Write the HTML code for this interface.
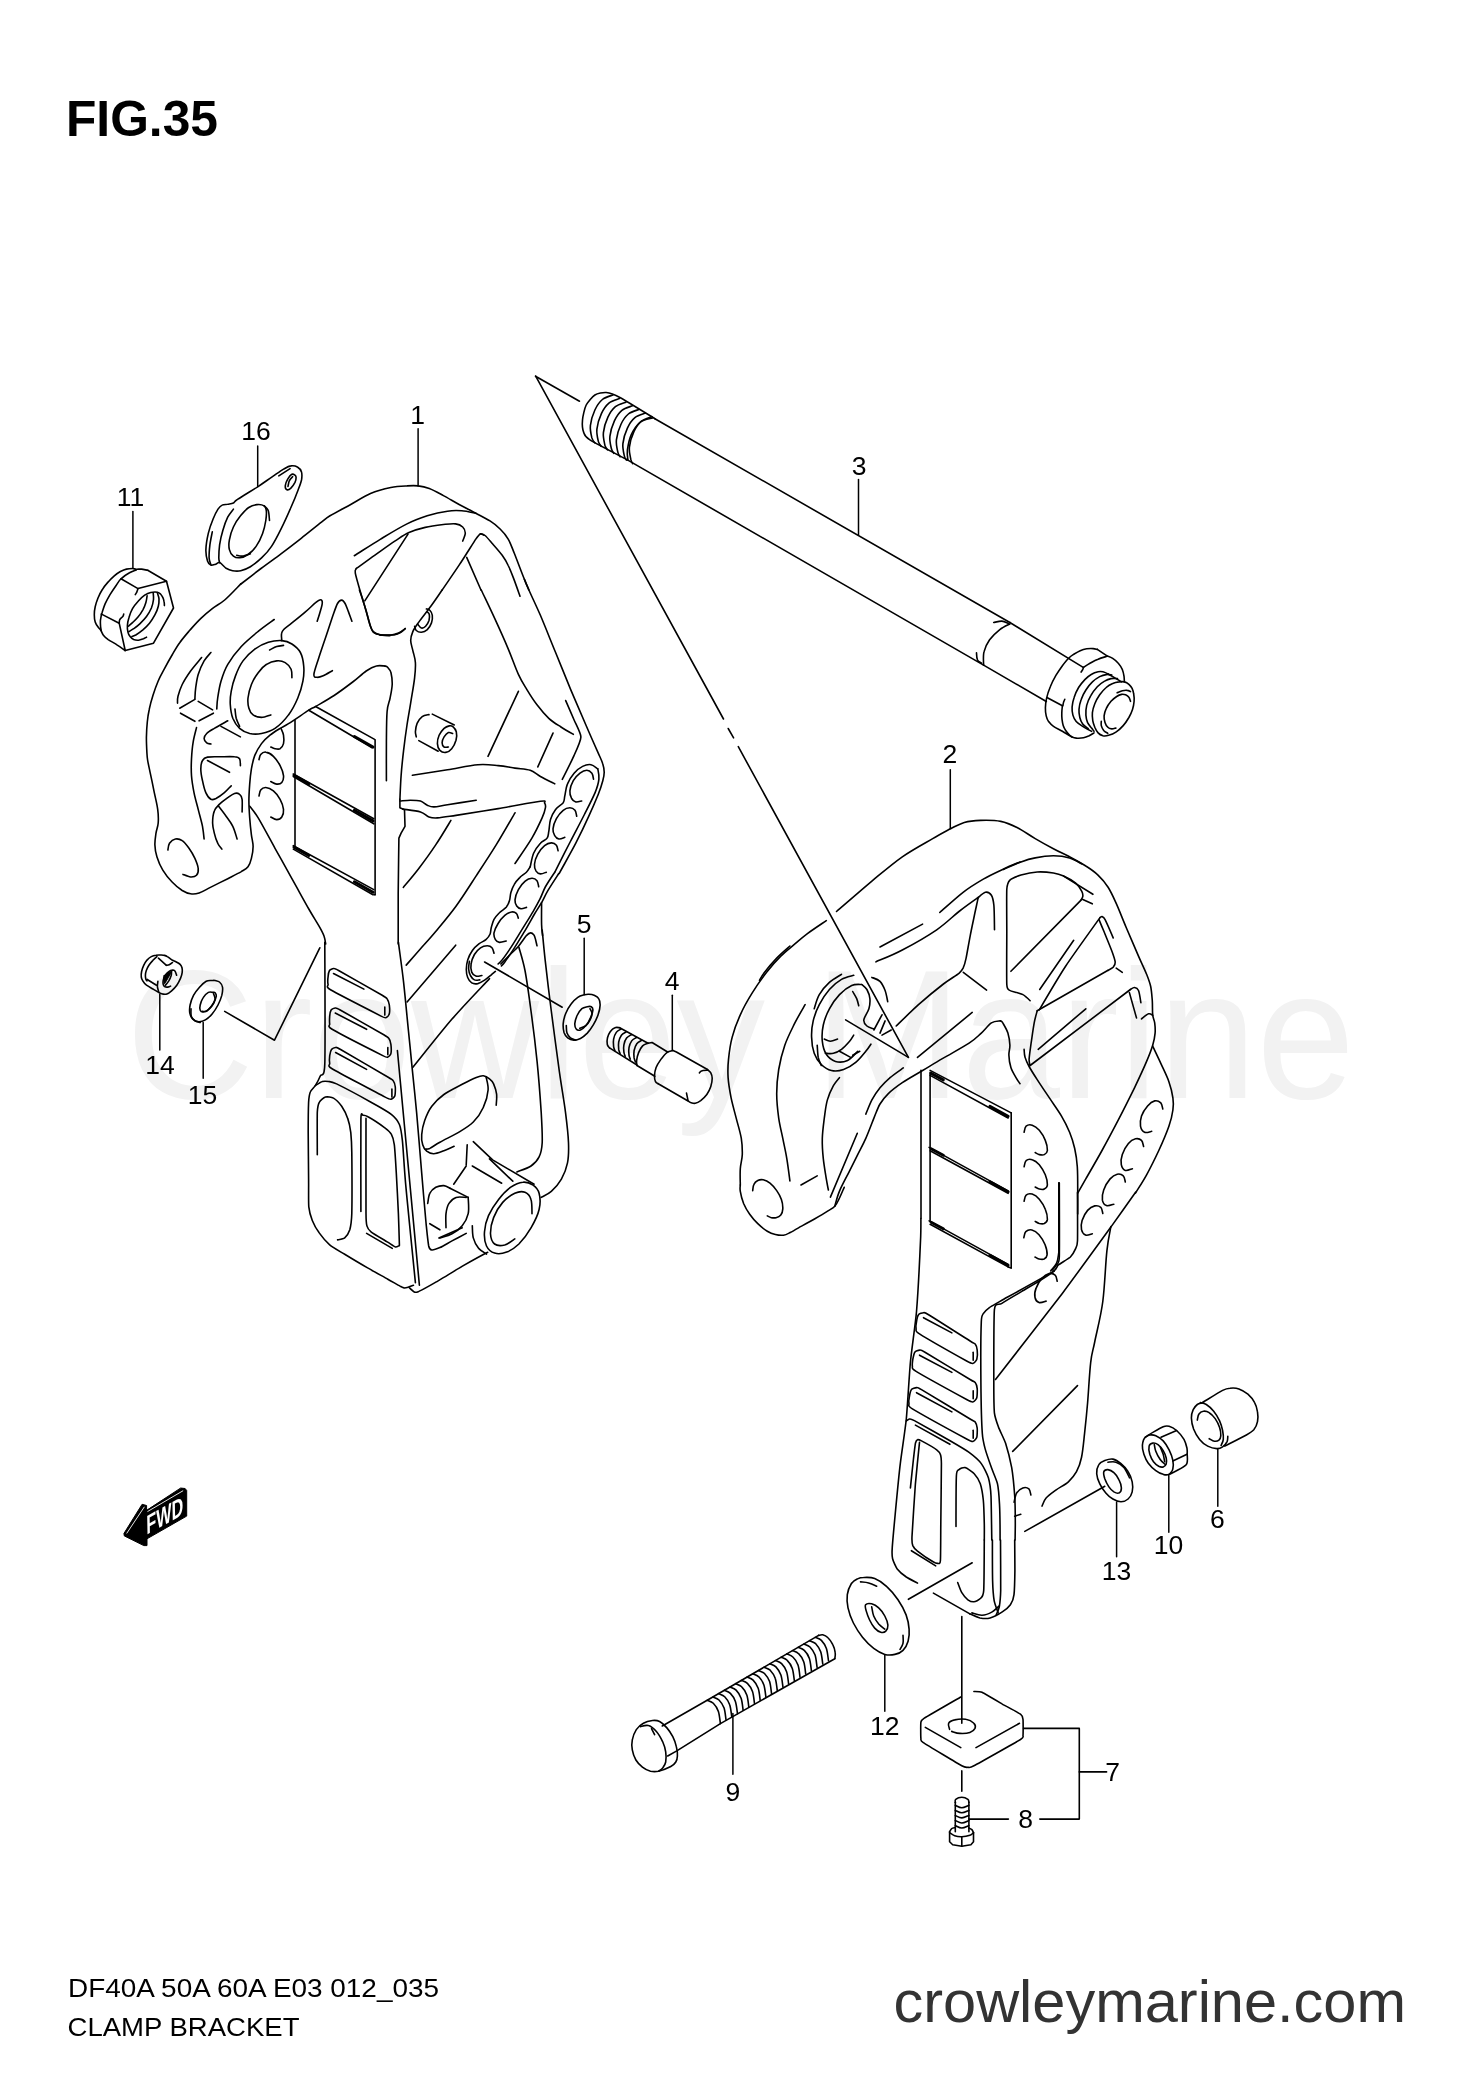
<!DOCTYPE html>
<html lang="en"><head><meta charset="utf-8"><title>FIG.35 CLAMP BRACKET</title>
<style>html,body{margin:0;padding:0;background:#fff}svg{display:block;will-change:transform}text{font-family:"Liberation Sans",Arial,Helvetica,sans-serif}</style></head><body>
<svg width="1481" height="2098" viewBox="0 0 1481 2098">
<rect width="1481" height="2098" fill="#fff"/>
<text x="126" y="1097.5" font-size="184" text-anchor="start" font-weight="normal" fill="#f2f2f2"  textLength="1229" lengthAdjust="spacingAndGlyphs">Crowley Marine</text>
<g fill="none" stroke="#000" stroke-linecap="round" stroke-linejoin="round">
<path d="M240.8 583.9C238.1 586.6 229.4 595.9 224.7 600C220 604 216.6 605.3 212.6 608.4C208.6 611.5 204.8 614.7 200.9 618.4C197.1 622 193.2 626.5 189.6 630.5C186.1 634.6 182.6 638.6 179.7 642.7C176.7 646.7 174.6 650.7 172.1 655C169.5 659.3 166.8 664.3 164.5 668.7C162.2 673 160.1 676.5 158.2 681C156.3 685.4 154.5 690.6 153 695.3C151.5 700 150.2 704.7 149.3 709.2C148.3 713.6 147.7 717.3 147.3 722C146.8 726.7 146.5 732.3 146.4 737.4C146.4 742.5 146.7 748.8 146.9 752.6C147.1 756.3 147.1 756.7 147.6 760C148.1 763.3 149 766.9 150.1 772.3C151.3 777.7 153.1 786.4 154.3 792.6C155.6 798.8 157.1 804.4 157.7 809.4C158.4 814.5 158.5 819 158.2 823C157.9 826.9 156.6 829.4 156 833.1C155.5 836.7 154.7 841 154.9 844.9C155 848.8 155.6 852.5 156.9 856.7C158.2 860.9 160.3 866 162.8 870.2C165.3 874.4 168.8 878.7 172.1 882C175.3 885.4 179.1 888.5 182.2 890.5C185.3 892.4 187.8 893.4 190.6 893.8C193.5 894.3 195.7 894.1 199.1 893C202.5 891.9 206.1 889.5 210.9 887.1C215.7 884.7 222.7 881.2 227.8 878.7C232.8 876.1 237.9 873.5 241.3 871.6C244.7 869.6 246.3 869 248 866.8C249.7 864.6 250.6 861.8 251.4 858.4C252.3 855 253.1 850.5 253.1 846.6C253.1 842.6 252 839.5 251.4 834.8C250.8 830 250.1 823.5 249.7 817.9C249.3 812.3 248.9 806.6 248.9 801C248.9 795.4 249.3 789.5 249.7 784.1C250.1 778.8 250.6 773.7 251.4 768.9C252.3 764.2 253.1 759.6 254.8 755.4C256.5 751.2 259 747 261.5 743.6C264.1 740.2 266.9 737.7 270 735.2C273.1 732.6 277 730.3 280.1 728.4C283.2 726.5 283.8 726.7 288.5 723.7C293.3 720.7 304.3 713.1 308.8 710.2C313.3 707.3 311.3 708.9 315.6 706.5C319.8 704 327.9 699.6 334.1 695.5C340.3 691.4 347.3 686.1 352.7 682C358 677.9 362.3 673.7 366.2 671C370.1 668.4 373.2 666.8 376.3 666C379.4 665.1 383.4 666 384.8 666" stroke-width="1.6"/>
<path d="M249.7 806.1C251.1 808 253.9 810.9 258.2 817.9C262.4 824.9 269.4 838.1 275 848.3C280.7 858.4 286.3 868.5 291.9 878.7C297.6 888.8 304.3 901.2 308.8 909C313.3 916.9 316.4 921.4 318.9 925.9C321.5 930.4 322.9 933 324 936C325.1 939.1 325.4 942.7 325.7 944" stroke-width="1.6"/>
<path d="M281.8 640.6C285.7 640.9 288.8 642 291.9 644C295 646 298.4 648.8 300.4 652.5C302.3 656.1 303.3 661.2 303.7 666C304.2 670.7 303.9 675.8 302.9 681.2C301.9 686.5 300.2 692.4 297.8 698C295.4 703.7 292.3 709.9 288.5 714.9C284.8 720 279.5 725.3 275 728.4C270.5 731.5 265.8 732.6 261.5 733.5C257.3 734.3 253.4 734.3 249.7 733.5C246.1 732.6 242.4 731 239.6 728.4C236.8 725.9 234.4 722.2 232.8 718.3C231.3 714.4 230.6 709.3 230.3 704.8C230 700.3 230.3 696.1 231.2 691.3C232 686.5 233.4 681.2 235.4 676.1C237.3 671 239.7 665.4 243 660.9C246.2 656.4 250.6 652.2 254.8 649.1C259 646 263.8 643.7 268.3 642.3C272.8 640.9 277.9 640.4 281.8 640.6Z" stroke-width="1.6"/>
<path d="M274.2 619.5C271.5 621.5 263.6 626.9 258.2 631.4C252.7 635.9 246.3 641.1 241.3 646.5C236.2 652 231.2 658.5 227.8 664.3C224.4 670 222.7 675.5 221 681.2C219.3 686.8 218.4 693.4 217.7 698C216.9 702.7 216.9 707.2 216.8 709" stroke-width="1.6"/>
<path d="M269.6 649.9C270.8 649.4 274.4 647.3 276.7 646.5C279 645.8 282.4 645.6 283.5 645.4" stroke-width="1.6"/>
<path d="M235 709C235.2 710.6 235.5 715.4 236.2 718.3C237 721.2 239 725 239.6 726.4" stroke-width="1.6"/>
<path d="M291.9 677.8C291.8 676.4 292.2 671.9 291.1 669.3C290 666.8 287.6 664 285.2 662.6C282.8 661.2 279.8 660.6 276.7 660.9C273.6 661.2 269.7 662.3 266.6 664.3C263.5 666.2 260.7 669.3 258.2 672.7C255.6 676.1 253.1 680.3 251.4 684.5C249.7 688.8 248.5 694.1 248 698C247.6 702 248 705.3 248.9 708.2C249.7 711 251 713.4 253.1 714.9C255.2 716.5 258.6 717.4 261.5 717.4C264.5 717.4 269.3 715.3 270.8 714.9" stroke-width="1.6"/>
<path d="M281.8 640.6C281.7 639.5 281.2 635.7 281.5 633.9C281.7 632.1 281.7 631.5 283.5 629.7C285.2 627.8 288.3 625.9 291.9 622.9C295.6 620 301.5 615.3 305.4 611.9C309.4 608.6 313 604.7 315.6 602.7C318.1 600.6 319.5 599.8 320.6 599.8C321.7 599.8 322.3 600.9 322.3 602.7C322.3 604.4 321.5 607.2 320.6 610.3C319.8 613.4 317.8 619.4 317.2 621.2" stroke-width="1.6"/>
<path d="M332.4 670.7C330.9 671.5 325.7 674.7 323.2 675.8C320.6 676.9 318.8 677.5 317.2 677.3C315.7 677 313.6 677.7 313.9 674.4C314.2 671.1 317 663.7 318.9 657.5C320.9 651.3 323.4 644 325.7 637.3C327.9 630.5 330.5 622.6 332.4 617C334.4 611.4 336 606.3 337.5 603.5C339 600.7 340.5 600.1 341.7 600.1C343 600.1 344 601.5 345.1 603.5C346.2 605.5 347.3 609 348.5 611.9C349.6 614.9 351.3 619.7 351.9 621.2" stroke-width="1.6"/>
<path d="M359.4 590C360.3 592.5 362.8 599.6 364.5 605.2C366.2 610.8 368.2 619.4 369.6 623.8C371 628.1 371.3 629.5 373 631.4C374.6 633.2 376.9 634 379.7 634.7C382.5 635.4 388.3 635.4 390 635.6" stroke-width="1.6"/>
<path d="M210.9 652.5C209.8 653.9 206.3 657.2 204.1 660.9C202 664.6 199.6 669.9 198.2 674.4C196.8 678.9 196.3 683.8 195.7 687.9C195.1 692 195 697.1 194.9 698.9" stroke-width="1.6"/>
<path d="M201.6 657.5C199.8 659.8 193.9 666.5 190.6 671C187.4 675.5 184.3 680.3 182.2 684.5C180.1 688.8 178.8 693.3 178 696.3C177.2 699.4 177.6 702 177.5 703.1" stroke-width="1.6"/>
<path d="M194.9 699.4 L179.7 708.2" stroke-width="1.6"/>
<path d="M180.5 713.2 L194.9 721.3" stroke-width="1.6"/>
<path d="M198.2 701.4 L212.6 709.9" stroke-width="1.6"/>
<path d="M213.4 713.2 L199.1 720.8" stroke-width="1.6"/>
<path d="M196.5 727.6C196 730 194 736.7 193.2 741.9C192.3 747.1 191.8 753.2 191.5 758.8C191.2 764.4 191.1 770.1 191.5 775.7C191.9 781.3 192.9 786.9 194 792.6C195.1 798.2 196.8 803.8 198.2 809.4C199.6 815.1 201.5 821.4 202.5 826.3C203.4 831.3 203.9 836.9 204.1 839" stroke-width="1.6"/>
<path d="M227.8 720.8C225.5 722.1 217.8 726.3 214.3 728.4C210.8 730.5 208.4 731.8 206.7 733.5C205 735.2 204.1 737 204.1 738.5C204.1 740.1 205.6 741.9 206.7 742.8C207.8 743.7 210.2 743.8 210.9 744" stroke-width="1.6"/>
<path d="M221 726.4 L240.4 736.9" stroke-width="1.6"/>
<path d="M240.4 765.6C240.3 764.4 240.6 760.3 239.6 758.8C238.6 757.3 237.6 757.1 234.5 756.8C231.4 756.4 225.5 756.7 221 756.8C216.5 756.8 210.6 756.5 207.5 757.1C204.4 757.7 203.6 758.5 202.5 760.5C201.3 762.5 200.8 765.6 200.8 768.9C200.8 772.3 201.6 776.8 202.5 780.7C203.3 784.7 204.4 789.5 205.8 792.6C207.2 795.7 209.2 798.3 210.9 799.3C212.6 800.3 213.7 799.6 216 798.5C218.2 797.3 221.9 794.7 224.4 792.6C226.9 790.5 230 786.9 231.2 785.8" stroke-width="1.6"/>
<path d="M207.5 760.5 L229.5 772.3" stroke-width="1.6"/>
<path d="M242.1 812C242.1 809.9 242.5 802.3 242.1 799.3C241.7 796.4 240.9 795.2 239.6 794.3C238.3 793.3 236.5 792.8 234.5 793.4C232.6 794 230.3 795.8 227.8 797.6C225.2 799.5 221.6 802.1 219.3 804.4C217.1 806.6 215.4 808 214.3 811.1C213.1 814.2 212.6 819.3 212.6 823C212.6 826.6 213.4 829.7 214.3 833.1C215.1 836.5 216.4 840.5 217.7 843.2C218.9 845.9 221.2 848.1 221.9 849.1" stroke-width="1.6"/>
<path d="M218.5 806.1C219.8 807.8 223.7 812.8 226.1 816.2C228.5 819.6 231 822.5 232.8 826.3C234.7 830.1 236.4 836.9 237.1 839" stroke-width="1.6"/>
<path d="M167.9 850C168.1 848.8 168.3 845 169.5 843.2C170.8 841.4 173.3 839.4 175.4 839C177.6 838.6 180 839.1 182.2 840.7C184.5 842.2 186.8 845.3 189 848.3C191.1 851.2 193.3 855 194.9 858.4C196.4 861.8 198 865.7 198.2 868.5C198.5 871.3 197.8 873.9 196.5 875.3C195.3 876.7 192.9 877.1 190.6 877C188.4 876.8 184.3 874.9 183 874.4" stroke-width="1.6"/>
<path d="M281 728.4C281.4 729.5 283.1 732.6 283.5 735.2C283.9 737.7 284 741.4 283.5 743.6C282.9 745.9 281.5 747.8 280.1 748.7C278.7 749.5 276.6 749 275 748.7C273.5 748.4 271.5 747.3 270.8 747" stroke-width="1.6"/>
<path d="M259 759.6C259.3 758.8 259.6 755.9 260.7 754.6C261.8 753.3 263.6 751.8 265.8 752.1C267.9 752.3 271 754 273.4 756.3C275.7 758.5 278.4 762.3 280.1 765.6C281.8 768.8 283.2 772.9 283.5 775.7C283.8 778.5 282.9 781 281.8 782.4C280.7 783.8 278.6 784.3 276.7 784.1C274.9 784 271.8 782 270.8 781.6" stroke-width="1.6"/>
<path d="M259 795.9C259.3 795 259.6 791.4 260.7 790C261.8 788.6 263.6 787.4 265.8 787.5C267.9 787.6 271 788.9 273.4 790.9C275.7 792.8 278.4 796.2 280.1 799.3C281.8 802.4 283.2 806.5 283.5 809.4C283.8 812.4 282.9 815.4 281.8 817C280.7 818.7 278.6 819.6 276.7 819.6C274.9 819.6 271.8 817.5 270.8 817" stroke-width="1.6"/>
<path d="M295 720 L295 847.4" stroke-width="1.6"/>
<path d="M375.1 739.9 L375.1 894.7" stroke-width="1.6"/>
<path d="M315.6 706.5 L374.6 739.4" stroke-width="1.6"/>
<path d="M308.8 710.2 L372.1 747.8" stroke-width="1.6"/>
<path d="M354.4 736.5 L373 747" stroke-width="3"/>
<path d="M293.3 774 L373.8 818.7" stroke-width="1.6"/>
<path d="M293.3 776.5 L373.8 823.8" stroke-width="1.6"/>
<path d="M354.4 810.3 L373 820.9" stroke-width="3"/>
<path d="M294 775.3 L308.8 783.8" stroke-width="3"/>
<path d="M293.3 845.7 L373.8 889.6" stroke-width="1.6"/>
<path d="M293.3 849.1 L373 894.7" stroke-width="1.6"/>
<path d="M354.4 881.7 L373 892.2" stroke-width="3"/>
<path d="M294 847.1 L308.8 855.5" stroke-width="3"/>
<path d="M373.8 894.7 L375.1 894.7" stroke-width="1.6"/>
<path d="M380 635.2C381.7 635.2 387 635.6 390.1 635.2C393.2 634.9 396 634.2 398.6 633C401.1 631.9 404.2 629.2 405.3 628.5" stroke-width="1.6"/>
<path d="M442.1 590C440.3 592.7 434.9 600.7 431 606C427.1 611.4 421.8 617.9 418.8 622.1C415.8 626.3 414.3 628.3 412.9 631.4C411.6 634.5 410.7 637.4 410.7 640.6C410.7 643.9 412.1 647.1 412.9 650.8C413.7 654.4 415.2 658.1 415.4 662.6C415.7 667.1 415.3 671.6 414.6 677.8C413.9 684 412.5 691.8 411.2 699.7C410 707.6 408.3 716.6 407 725C405.7 733.5 404.6 741.9 403.6 750.4C402.6 758.8 401.7 767.5 401.1 775.7C400.5 783.8 400.1 795.4 399.9 799.3" stroke-width="1.6"/>
<path d="M399.9 799.3 L399.9 807.8 L404.5 809.8 L405 826.3 L401.1 833.1 L398.9 838.1 L398.6 860.1 L398.2 893.8 L398.2 944" stroke-width="1.6"/>
<path d="M414.6 626.3C414.9 627 415.2 629.5 416.3 630.5C417.4 631.5 419.5 632.3 421.4 632.2C423.2 632.1 425.6 631.2 427.3 629.7C429 628.1 430.6 625.3 431.5 622.9C432.3 620.5 432.6 617.4 432.3 615.3C432 613.2 430.8 611.3 429.8 610.3C428.8 609.2 427 609.1 426.4 608.9" stroke-width="1.6"/>
<path d="M418 624.6C418.5 625.2 420.1 627.7 421.4 628C422.6 628.3 424.3 627.6 425.6 626.3C426.8 625 428.3 622.4 429 620.4C429.6 618.4 429.6 615.9 429.3 614.5C429 613.1 427.6 612.4 427.3 611.9" stroke-width="1.6"/>
<path d="M384.7 666C385.2 666.2 386.6 666.2 387.6 667.3C388.6 668.4 390.2 669.8 391 672.7C391.7 675.6 392.3 680.3 392.2 684.5C392 688.8 391 693.5 390.1 698C389.3 702.5 387.7 704.2 387.1 711.5C386.5 718.9 386.5 730.4 386.4 741.9C386.3 753.5 386.4 774.3 386.4 780.7" stroke-width="1.6"/>
<path d="M524.5 579.5C525.2 581.3 526.2 584 528.9 590C531.5 596 535.9 604.9 540.4 615.3C544.8 625.7 550.5 640.1 555.6 652.5C560.6 664.8 565.7 677.5 570.7 689.6C575.8 701.7 581.4 714.6 585.9 725C590.4 735.5 594.9 745.6 597.8 752.1C600.6 758.5 601.8 760.5 602.8 763.9C603.9 767.2 604.2 769.5 604.2 772.3C604.2 775.1 603.8 777.1 602.8 780.7C601.8 784.4 600.6 788.3 598.3 794.3C595.9 800.2 592.6 808 588.8 816.2C585.1 824.4 580.7 833.7 575.8 843.2C570.9 852.7 562 868.2 559.3 873.3" stroke-width="1.6"/>
<path d="M481.3 590C483.5 594.8 490.3 608.8 494.8 618.7C499.3 628.5 504.4 639.8 508.3 649.1C512.2 658.4 515.3 667.7 518.4 674.4C521.5 681.2 523.8 684.5 526.9 689.6C530 694.7 533.3 700 537 704.8C540.6 709.6 544.9 714.6 548.8 718.3C552.7 721.9 556.5 724.1 560.6 726.7C564.7 729.4 571.2 733.1 573.3 734.3" stroke-width="1.6"/>
<path d="M565.7 700.6C566.5 702.5 572.6 716.4 574.1 720C575.6 723.6 580.9 733.3 580.9 736.9C580.9 740.4 576 751.2 574.1 755.4C572.3 759.7 563.5 777 562.3 779.4" stroke-width="1.6"/>
<path d="M518.4 691.3 L488 756.3" stroke-width="1.6"/>
<path d="M553 733.1 L537.8 766.9" stroke-width="1.6"/>
<path d="M412.4 775.3C418.3 774.4 436.6 771.5 447.5 769.8C458.4 768 469.5 765.4 477.9 764.7C486.3 764 492 765 498.2 765.6C504.4 766.1 509.7 767.3 515 768.1C520.4 768.9 526 768.9 530.2 770.3C534.5 771.7 536.3 774.3 540.4 776.5C544.4 778.8 552.3 782.6 554.7 783.8" stroke-width="1.6"/>
<path d="M399.9 801C401.7 800.9 407 800.2 410.4 800.2C413.8 800.2 417.7 800.2 420.5 801C423.3 801.9 425 804.2 427.3 805.2C429.5 806.2 430.6 807 434 806.9C437.4 806.8 440.5 805.8 447.5 804.7C454.6 803.6 471.4 800.9 476.2 800.2" stroke-width="1.6"/>
<path d="M402.8 809.1C405.7 809.6 416.2 810.7 420.5 812C424.9 813.3 426.1 816.1 429 817C431.8 818 432.9 818.2 437.4 817.9C441.9 817.6 445.8 816.9 456 815.4C466.1 813.8 484.1 810.9 498.2 808.6C512.2 806.3 532.6 802.3 540.4 801.3C548.1 800.4 543.7 802 544.6 803C545.4 804.1 545.9 805.3 545.4 807.8C545 810.2 544.3 812.8 542.1 817.9C539.8 823 536.4 830.5 531.9 838.1C527.4 845.7 517.9 859.2 515 863.5" stroke-width="1.6"/>
<path d="M450.9 820.4C448.4 824.5 441.1 836.9 435.7 844.9C430.4 852.9 424.2 861.4 418.8 868.5C413.4 875.6 405.9 884.3 403.3 887.4" stroke-width="1.6"/>
<path d="M515 812.8C511.9 818.1 502.8 834.2 496.3 844.7C489.8 855.3 482.8 865.8 476 876.1C469.3 886.4 462.5 897.2 455.8 906.5C449 915.8 441.4 924.7 435.5 931.8C429.6 938.9 425.2 943.5 420.3 949C415.4 954.6 408.5 962.4 406.2 965.1" stroke-width="1.6"/>
<path d="M597.8 768.9C596.6 768.2 593.5 765.1 591 764.7C588.5 764.3 585.4 765 582.6 766.4C579.8 767.8 576.7 770.2 574.1 773.2C571.6 776.1 568.9 780.3 567.4 784.1C565.8 787.9 565.5 792.8 564.8 795.9C564.1 799 564.7 800.4 563.2 802.7C561.6 804.9 557.7 806.6 555.6 809.4C553.4 812.3 551.6 815.9 550.5 819.6C549.4 823.2 549.4 828.3 548.8 831.4C548.2 834.5 548.5 836.2 547.1 838.1C545.7 840.1 542.6 840.7 540.4 843.2C538.1 845.7 535.3 849.4 533.6 853.3C531.9 857.3 530.8 864.6 530.2 866.8" stroke-width="1.6"/>
<path d="M597.8 768.9C598 770.6 599.4 775.1 598.9 779.1C598.5 783 597.5 786.7 595.1 792.6C592.6 798.5 588.5 806.4 584.4 814.5C580.3 822.7 575.3 832 570.4 841.5C565.5 851 557.6 866.6 555.1 871.6" stroke-width="1.6"/>
<path d="M593.5 779.1C593.3 778.1 593 774.6 591.9 773.2C590.7 771.7 588.8 770.3 586.8 770.3C584.8 770.3 582.3 771.4 580 773.2C577.8 774.9 575 777.8 573.3 780.7C571.6 783.7 570.2 787.9 569.9 790.9C569.6 793.8 570.6 796.6 571.6 798.5C572.6 800.3 574.1 801.4 575.8 801.9C577.5 802.3 580.7 801.1 581.7 801" stroke-width="1.6"/>
<path d="M576.7 816.2C576.4 815.2 576.1 811.7 575 810.3C573.8 808.9 571.9 807.8 569.9 807.8C567.9 807.8 565.4 808.5 563.2 810.3C560.9 812.1 558.1 815.6 556.4 818.7C554.7 821.8 553.3 826 553 828.9C552.7 831.7 553.7 833.9 554.7 835.6C555.7 837.3 557.2 838.7 558.9 839C560.6 839.3 563.9 837.6 564.8 837.3" stroke-width="1.6"/>
<path d="M558.1 850.8C557.8 849.9 557.5 846.6 556.4 845.2C555.3 843.9 553.3 842.8 551.3 842.9C549.4 843 546.8 843.9 544.6 845.7C542.3 847.6 539.5 851.1 537.8 854.2C536.1 857.3 534.7 861.5 534.5 864.3C534.2 867.1 535.2 869.5 536.1 871.1C537.1 872.7 538.7 873.7 540.4 873.9C542.1 874.1 545.3 872.5 546.3 872.2" stroke-width="1.6"/>
<path d="M538.7 886.8C538.4 885.7 538.1 882.1 537 880.7C535.9 879.3 533.9 878.2 531.9 878.3C530 878.4 527.4 879.3 525.2 881.2C522.9 883.1 520.1 886.5 518.4 889.6C516.7 892.7 515.3 897 515 899.8C514.8 902.5 515.7 904.5 516.7 906C517.7 907.5 519.3 908.5 521 908.7C522.6 908.9 525.6 907.6 526.5 907.4" stroke-width="1.6"/>
<path d="M429 714.6C427.8 714.9 424.2 715.1 422.2 716.6C420.2 718.1 418.3 720.8 417.1 723.4C416 725.9 415.6 729.5 415.4 731.8C415.3 734 416.2 736 416.3 736.9" stroke-width="1.6"/>
<path d="M432.3 714.1 L454.3 725" stroke-width="1.6"/>
<path d="M418.8 740.6 L438.2 751.2" stroke-width="1.6"/>
<path d="M452.6 726.4C453.8 727.4 455.7 729.5 456.3 731.8C456.9 734.1 456.7 737.4 456 740.2C455.2 743 453.4 746.7 451.7 748.7C450.1 750.7 447.8 752.1 445.8 752.4C443.9 752.7 441.3 751.8 439.9 750.4C438.5 748.9 437.5 746.1 437.4 743.6C437.3 741.1 438 737.7 439.1 735.2C440.2 732.6 442.5 730 444.1 728.4C445.8 726.9 447.8 726.2 449.2 725.9C450.6 725.6 451.4 725.4 452.6 726.4Z" stroke-width="1.6"/>
<path d="M452.6 733.5C451.9 733.3 449.8 732.1 448.4 732.6C447 733.2 445.2 735.2 444.1 736.9C443.1 738.5 442.1 741.1 442.1 742.8C442.1 744.5 443.1 746.3 444.1 747C445.2 747.7 447.7 747 448.4 747" stroke-width="1.6"/>
<path d="M240.9 584C244.2 581.4 254.3 573.6 261 568.5C267.7 563.4 274.6 558.7 281.3 553.6C288.1 548.5 294.8 543.4 301.5 538.1C308.2 532.8 317 525.6 321.8 521.9C326.5 518.2 325.3 518.7 330 515.8C334.7 513 343.5 508.4 350.3 504.7C357 501 363.8 496.4 370.5 493.5C377.3 490.7 384.7 488.8 390.8 487.5C396.8 486.2 402.4 486.1 407 485.9C411.5 485.6 414.4 485.4 418.1 485.9C421.8 486.3 425 486.9 429.3 488.5C433.5 490.1 438.4 492.9 443.4 495.6C448.5 498.3 454.2 501.8 459.6 504.7C465 507.6 470.8 510.5 475.8 513.2C480.9 515.9 486 518.3 490 520.9C494.1 523.5 497.1 526 500.1 529C503.2 532 505.9 535.1 508.2 539.1C510.6 543.2 511.6 546.5 514.3 553.3C517 560.1 522 573.5 524.5 579.6C526.9 585.7 528.2 588.2 528.9 590" stroke-width="1.6"/>
<path d="M354.3 555.7C358.7 553 371.9 544.4 380.6 539.1C389.4 533.8 399.2 527.8 407 523.9C414.7 520 420.5 518 427.2 515.8C434 513.7 441.7 512 447.5 511.2C453.2 510.3 456.9 510.4 461.7 510.8C466.4 511.1 473.5 512.8 475.8 513.2" stroke-width="1.6"/>
<path d="M356.3 568.5C359.4 566.3 368.1 559.9 374.6 555.3C381 550.8 389.1 544.9 394.8 541.1C400.6 537.4 403.9 534.9 409 532.6C414.1 530.3 419.5 528.7 425.2 527.4C430.9 526 438.4 525.1 443.4 524.5C448.5 524 452.4 523.5 455.6 523.9C458.8 524.3 461.1 525.5 462.7 527C464.3 528.5 465.3 530.7 465.3 533C465.3 535.4 463.1 539.8 462.7 541.1" stroke-width="1.6"/>
<path d="M356.3 568.5C356.2 569.3 354.6 569.3 355.3 573.2C356 577 358.5 585.3 360.4 591.8C362.2 598.3 364.8 606.3 366.5 612C368.1 617.8 369.3 622.8 370.5 626.2C371.7 629.6 371.9 630.9 373.5 632.3C375.2 633.7 377.1 634.3 380.6 634.7C384.2 635.1 391.4 635.1 394.8 634.7C398.2 634.3 399.1 633.3 400.9 632.3C402.6 631.3 404.6 629.3 405.3 628.7" stroke-width="1.6"/>
<path d="M408 534.1 L364.8 600.9" stroke-width="1.6"/>
<path d="M483.9 535.1C483.5 534.9 481.2 533.4 480.3 533.9C479.3 534.3 478.2 535.6 475.8 539.1C473.4 542.7 463.6 558.5 459.6 564.4C455.7 570.4 444.2 587 442.2 590" stroke-width="1.6"/>
<path d="M480.3 533.9C481.1 534.1 483 533.9 485 535.5C486.9 537 489.2 539.9 492 543.2C494.9 546.5 499.5 551.6 502.2 555.3C504.9 559 506.4 561.7 508.2 565.5C510.1 569.2 511.4 572.5 513.3 577.6C515.3 582.7 518.9 593.1 520 596.2" stroke-width="1.6"/>
<path d="M466.7 557.4 L481.1 590.2" stroke-width="1.6"/>
<path d="M418.1 428.7 L418.1 485.9" stroke-width="1.5"/>
<path d="M324.8 942.2C324.8 956.3 325.4 1048.1 324.8 1063.7C324.3 1079.3 321.5 1073.3 320.4 1075.8C319.3 1078.4 316.5 1083.7 315.3 1085.6C314.1 1087.5 311 1090.1 310.3 1092C309.5 1094 308.9 1097.4 308.6 1102.2C308.4 1106.9 308.2 1123.5 308.2 1132.6C308.2 1141.6 308.6 1171.3 308.6 1179.9C308.7 1188.6 308.4 1202.2 308.8 1206.9C309.3 1211.6 311.1 1217.5 312.3 1220.5C313.5 1223.5 316.9 1229.8 319 1232.6C321 1235.4 326.7 1242.2 329.7 1244.8C332.7 1247.3 340.3 1251.6 344.7 1254.3C349.1 1257 362.5 1265 367.6 1267.9C372.6 1270.8 384.1 1277.1 387.8 1279.2C391.6 1281.3 398.1 1285.1 400 1286.1C401.9 1287.1 403.1 1287.8 404 1287.9C405 1288.1 407 1287.6 408.1 1287.3C409.2 1287 412.7 1285.5 413.4 1285.3" stroke-width="1.6"/>
<path d="M409.5 1287.9C409.9 1288.3 414 1291.9 414.8 1292.2C415.5 1292.5 417.1 1292.1 418.8 1291.4C420.5 1290.6 431.4 1284.7 435 1282.6C438.6 1280.6 457.6 1269 462 1266.4C466.4 1263.9 485.5 1253.4 487.7 1252.3" stroke-width="1.6"/>
<path d="M315.3 1085.6C316.3 1085 320.7 1082 322.4 1081.5C324.2 1081 326.6 1081.2 328.5 1081.5C330.4 1081.8 330.9 1081.2 336.6 1083.9C342.3 1086.7 363.7 1098.1 371 1102.2C378.3 1106.2 387.5 1111.4 391.3 1114.3C395.1 1117.3 397.9 1120.9 399.4 1124.5C400.9 1128 401.6 1133.3 402.4 1140.7C403.2 1148.1 404.2 1167.5 405.3 1179.9C406.3 1192.4 409.2 1220.1 410.5 1233.8C411.9 1247.5 414.7 1276.1 415.4 1282.6" stroke-width="1.6"/>
<path d="M398.4 942.2C399 947.3 402.1 968.8 403.4 980.6C404.8 992.5 407.3 1019.7 408.5 1031.3C409.7 1042.9 411.1 1056.9 412.1 1067.7C413.2 1078.5 415.3 1098.3 416.6 1112.3C417.9 1126.3 420.4 1158.2 421.7 1173.1C422.9 1187.9 425.2 1214 426.1 1223.7C427.1 1233.4 428 1242.5 428.7 1246C429.5 1249.5 430.3 1249.8 431.8 1250C433.3 1250.2 437.2 1248.8 439.9 1247.6C442.6 1246.4 448.5 1242.8 452 1240.9C455.6 1239 464.3 1234.4 466.2 1233.4" stroke-width="1.6"/>
<path d="M397.4 1050.5 L419.4 1285.3" stroke-width="1.6"/>
<path d="M333.5 968.5C332.6 968.5 330 969.7 329.5 970.5C329 971.3 328.2 975.2 328.1 976.6C327.9 978 327.8 983.4 328.1 984.7C328.3 986 325.2 986.6 330.5 989.8C335.8 992.9 375.6 1013.3 381.1 1016.1C386.7 1018.9 385.4 1017.7 386.2 1017.5C387 1017.3 388.9 1015.3 389.3 1014.1C389.6 1012.8 389.5 1006.5 389.3 1004.9C389 1003.4 387.9 999.8 387.2 998.9C386.5 997.9 387 998.1 382.2 995.2C377.3 992.4 343.5 973.2 338.6 970.5C333.8 967.8 334.5 968.5 333.5 968.5Z" stroke-width="1.6"/>
<path d="M333.5 973.5 L363.9 989.1" stroke-width="1.6"/>
<path d="M384.8 1007 L384.8 1015.1" stroke-width="1.6"/>
<path d="M335.2 1008C334.3 1008 331.7 1009.2 331.1 1010C330.6 1010.8 329.8 1014.7 329.7 1016.1C329.6 1017.5 329.5 1022.9 329.7 1024.2C329.9 1025.5 326.8 1026.1 332.1 1029.3C337.4 1032.4 377.2 1052.8 382.8 1055.6C388.3 1058.4 387 1057.2 387.8 1057C388.6 1056.8 390.6 1054.8 390.9 1053.6C391.2 1052.3 391.1 1046 390.9 1044.4C390.7 1042.9 389.6 1039.3 388.8 1038.4C388.1 1037.4 388.6 1037.6 383.8 1034.7C378.9 1031.9 345.1 1012.7 340.2 1010C335.4 1007.3 336.1 1008 335.2 1008Z" stroke-width="1.6"/>
<path d="M335.2 1013 L366.6 1029.3" stroke-width="1.6"/>
<path d="M387.8 1047.5 L387.8 1054.6" stroke-width="1.6"/>
<path d="M335.6 1047.5C334.7 1047.5 332.1 1048.7 331.5 1049.5C330.9 1050.3 329.9 1054.2 329.7 1055.6C329.5 1057 329.5 1062.4 329.7 1063.7C329.9 1065 326.6 1065.4 332.1 1068.7C337.7 1072.1 379.3 1094.1 385.2 1097.1C391.1 1100.1 390.3 1099.3 391.3 1099.1C392.2 1099 394.5 1096.9 394.9 1095.7C395.3 1094.5 395.5 1088.5 395.3 1087C395.2 1085.5 394 1081.9 393.3 1080.9C392.6 1079.9 393.5 1080.4 388.2 1077.3C383 1074.1 345.9 1052.5 340.6 1049.5C335.4 1046.5 336.5 1047.5 335.6 1047.5Z" stroke-width="1.6"/>
<path d="M335.6 1052.5 L366.6 1069.4" stroke-width="1.6"/>
<path d="M391.9 1089 L391.9 1097.1" stroke-width="1.6"/>
<path d="M317.3 1154.8C317.3 1149.9 317.1 1118.4 317.3 1112.3C317.6 1106.2 318.4 1103.9 319.4 1102.2C320.3 1100.4 323.8 1097.6 325.4 1097.1C327.1 1096.6 331.7 1097.1 333.5 1098.1C335.4 1099.2 340 1103.9 341.7 1106.2C343.3 1108.6 346.7 1115.3 347.7 1118.4C348.8 1121.4 350.3 1128.5 350.8 1132.6C351.2 1136.6 351.7 1143.4 351.8 1152.8C351.9 1162.3 352 1204.6 351.8 1213.6C351.5 1222.6 350.6 1226.9 349.8 1229.8C348.9 1232.6 346.1 1236.7 344.7 1237.9C343.3 1239.1 338.4 1239.7 337.6 1239.9" stroke-width="1.6"/>
<path d="M360.9 1211.5C360.9 1202.3 360.7 1129 360.9 1119.4C361.1 1109.8 362.2 1115.6 362.9 1115.3C363.6 1115.1 365.8 1115.5 368 1116.8C370.2 1118 382.9 1126.4 385.2 1128.1C387.5 1129.8 390.4 1132.5 391.3 1134.2C392.2 1135.8 393.8 1140.8 394.3 1144.7C394.8 1148.6 395.9 1166.2 396.3 1173.1C396.7 1179.9 398.1 1206.4 398.4 1213.6C398.7 1220.8 399.3 1241.8 399.4 1245" stroke-width="1.6"/>
<path d="M366 1118.4C366 1127.9 365.9 1202.8 366 1213.6C366.1 1224.3 366.5 1224.3 367 1226.1C367.5 1228 369 1230.2 371 1231.8C373 1233.4 384.8 1240.4 387.2 1241.9C389.7 1243.4 394.1 1246.6 395.3 1247C396.5 1247.4 399 1245.7 399.4 1245.6" stroke-width="1.6"/>
<path d="M366.6 1233.4 L392.3 1248.4" stroke-width="1.6"/>
<path d="M455.7 945.2 L407.1 1001.9" stroke-width="1.6"/>
<path d="M489.5 978.6C483.3 985.4 464.8 1004.3 452 1019.1C439.3 1033.9 419.5 1059.3 412.9 1067.3" stroke-width="1.6"/>
<path d="M542.2 930C542.7 935.1 543.7 946.9 545.2 960.4C546.7 973.9 548.9 992.5 551.3 1011C553.7 1029.6 557 1054.9 559.4 1071.8C561.8 1088.7 564 1100.5 565.5 1112.3C567 1124.1 568.2 1134.2 568.5 1142.7C568.8 1151.1 568.7 1156.9 567.5 1162.9C566.3 1169 564.1 1174.4 561.4 1179.1C558.7 1183.9 554.7 1188.3 551.3 1191.3C547.9 1194.3 542.9 1196.4 541.2 1197.4" stroke-width="1.6"/>
<path d="M518.9 947.2C519.9 951.1 522.9 959.9 525 970.5C527 981.1 529 995.8 531 1011C533.1 1026.2 535.4 1044.8 537.1 1061.7C538.8 1078.5 540.3 1098.8 541.2 1112.3C542 1125.8 542.5 1135.3 542.2 1142.7C541.8 1150.1 541 1153 539.1 1156.9C537.3 1160.7 534.8 1163.4 531 1166C527.3 1168.5 519.2 1171 516.9 1172" stroke-width="1.6"/>
<path d="M496.2 1105.2C496.3 1103.4 497 1097.6 496.6 1094.1C496.2 1090.5 494.7 1086.5 493.6 1083.9C492.4 1081.4 491.2 1080.2 489.5 1078.9C487.8 1077.5 485.6 1076.1 483.4 1075.8C481.2 1075.6 479.9 1076 476.3 1077.5C472.8 1078.9 467.6 1081.5 462.2 1084.3C456.8 1087.2 449 1090.8 443.9 1094.5C438.9 1098.1 435 1101.9 431.8 1106.2C428.6 1110.5 426.4 1115.7 424.7 1120.4C423 1125.1 422 1130.5 421.7 1134.6C421.3 1138.6 421.8 1141.9 422.7 1144.7C423.5 1147.5 424.9 1149.7 426.7 1151.2C428.6 1152.7 430.9 1153.9 433.8 1153.8C436.7 1153.8 440.6 1152 443.9 1150.8C447.3 1149.5 452.4 1147.1 454.1 1146.3" stroke-width="1.6"/>
<path d="M486.1 1076.9C486.4 1079 488.5 1085 488.1 1090C487.7 1095.1 485.9 1101.9 483.4 1107.2C481 1112.6 477.5 1117.8 473.3 1122C469.1 1126.2 463.7 1129.2 458.1 1132.6C452.5 1135.9 444.6 1139.6 439.9 1142.3C435.2 1144.9 432.2 1147.2 429.8 1148.4C427.3 1149.5 426 1149 425.3 1149.2" stroke-width="1.6"/>
<path d="M539.1 1193.3C538.1 1189.3 535.8 1187.1 533.1 1185.2C530.4 1183.4 526.6 1181.8 522.9 1182.2C519.2 1182.5 514.8 1184.4 510.8 1187.2C506.7 1190.1 502.3 1194.7 498.6 1199.4C494.9 1204.1 490.9 1210.2 488.5 1215.6C486.1 1221 484.8 1226.7 484.5 1231.8C484.1 1236.9 484.8 1242.4 486.5 1246C488.2 1249.5 491.2 1252.1 494.6 1253.1C498 1254.1 502.7 1253.6 506.7 1252.1C510.8 1250.5 514.8 1248 518.9 1244C522.9 1239.9 527.7 1233.5 531 1227.8C534.4 1222 537.8 1215.3 539.1 1209.5C540.5 1203.8 540.2 1197.4 539.1 1193.3Z" stroke-width="1.6"/>
<path d="M532 1213.6C531.9 1211.2 532.2 1202.9 531 1199.4C529.9 1195.8 527.7 1193.3 525 1192.3C522.3 1191.3 518.5 1191.6 514.8 1193.3C511.1 1195 506.2 1198.4 502.7 1202.4C499.1 1206.5 495.6 1212.4 493.6 1217.6C491.5 1222.9 490.4 1229.4 490.5 1233.8C490.7 1238.2 492.2 1242.1 494.6 1244C496.9 1245.8 501.3 1245.8 504.7 1245C508.1 1244.1 513.1 1239.9 514.8 1238.9" stroke-width="1.6"/>
<path d="M472.3 1225.7C472.5 1227.8 472.3 1234.2 473.3 1237.9C474.3 1241.6 476.2 1245.3 478.4 1248C480.6 1250.7 485.1 1253.1 486.5 1254.1" stroke-width="1.6"/>
<path d="M473.3 1141.7 L492.6 1159.9 L534.1 1184.2" stroke-width="1.6"/>
<path d="M472.3 1166 L501.7 1183.2" stroke-width="1.6"/>
<path d="M489.5 1158.9 L512.8 1181.2" stroke-width="1.6"/>
<path d="M467.2 1144.7 L466.2 1165" stroke-width="1.6"/>
<path d="M466.2 1166 L453.7 1184.2" stroke-width="1.6"/>
<path d="M427.7 1203.4C428.1 1201.8 428.4 1196 429.8 1193.3C431.1 1190.6 433.5 1188.5 435.8 1187.2C438.2 1186 441.6 1185.5 443.9 1185.6C446.3 1185.8 449 1187.8 450 1188.3" stroke-width="1.6"/>
<path d="M450 1188.3 L468.2 1197.4" stroke-width="1.6"/>
<path d="M468.2 1197.4C468.2 1200.1 469.3 1208.8 468.2 1213.6C467.2 1218.3 464.9 1222.4 462.2 1225.7C459.5 1229.1 455.8 1231.8 452 1233.8C448.3 1235.9 441.9 1237.2 439.9 1237.9" stroke-width="1.6"/>
<path d="M466.2 1197.4C464.5 1197.4 459 1196.4 456.1 1197.4C453.2 1198.4 450.7 1200.7 449 1203.4C447.3 1206.1 446.5 1209.5 446 1213.6C445.5 1217.6 446 1225.4 446 1227.8" stroke-width="1.6"/>
<path d="M429.8 1223.7 L439.9 1229.8" stroke-width="1.6"/>
<path d="M438.9 1237.9 L462.2 1227.8" stroke-width="1.6"/>
<path d="M530.2 866.8C529.6 867.7 528.2 870.4 526.4 872.2C524.7 874 521.7 875.5 519.7 877.6C517.7 879.6 515.7 881.8 514.3 884.3C512.8 886.8 511.7 889.7 510.9 892.4C510.1 895.1 510.3 898 509.5 900.5C508.8 903 507.9 905.2 506.2 907.3C504.5 909.3 501.4 910.6 499.4 912.7C497.4 914.7 495.4 916.9 494 919.4C492.7 921.9 492 925 491.3 927.5C490.6 930 490.9 932.2 490 934.3C489.1 936.3 487.7 938.1 485.9 939.7C484.1 941.3 481.4 941.9 479.2 943.7C476.9 945.5 474.3 947.8 472.4 950.5C470.5 953.2 468.7 956.8 467.7 959.9C466.7 963.1 466.3 966.5 466.3 969.4C466.3 972.3 466.8 975.2 467.7 977.5C468.6 979.7 470 981.9 471.7 982.9C473.4 983.9 475.7 984 477.8 983.6C480 983.1 482.3 981.7 484.6 980.2C486.8 978.7 489.5 976.3 491.3 974.8C493.1 973.3 494.7 972 495.4 971.4" stroke-width="1.6"/>
<path d="M554.8 872.2C553.2 874.6 547.8 882.5 545.3 887C542.9 891.5 542 895.1 539.9 899.2C537.9 903.2 536.1 906.4 533.2 911.3C530.3 916.3 526 923 522.4 928.9C518.8 934.7 514.9 941.3 511.6 946.4C508.2 951.6 504.4 957 502.1 959.9C499.9 962.9 498.7 963.3 498.1 964" stroke-width="1.6"/>
<path d="M558.8 873.5C557 876.3 550.8 885.7 548 890.4C545.2 895.1 544.2 897.9 542 901.9C539.7 905.8 537.5 909.1 534.5 914C531.6 919 527.9 925.7 524.4 931.6C520.9 937.4 516.9 944.1 513.6 949.1C510.3 954.2 506.8 959.1 504.8 962C502.8 964.8 502 965.3 501.4 966" stroke-width="1.6"/>
<path d="M518.3 918.1C518 917.3 517.4 914.4 516.3 913.3C515.2 912.3 513.5 911.7 511.6 912C509.7 912.3 507.1 913.5 504.8 915.4C502.6 917.3 499.9 920.5 498.1 923.5C496.3 926.4 494.5 930.2 494 932.9C493.6 935.6 494.5 938.1 495.4 939.7C496.3 941.3 497.6 942.2 499.4 942.4C501.2 942.6 505 941.3 506.2 941" stroke-width="1.6"/>
<path d="M494 953.2C493.7 952.3 493.1 949 492 947.8C490.9 946.5 489.2 945.8 487.3 945.8C485.4 945.8 482.7 946.3 480.5 947.8C478.4 949.2 476 951.8 474.4 954.5C472.9 957.2 471.5 961.1 471.1 964C470.6 966.9 470.9 970.1 471.7 972.1C472.5 974.1 474.1 975.6 475.8 976.1C477.5 976.7 480.9 975.6 481.9 975.5" stroke-width="1.6"/>
<path d="M469.4 961.3C469.3 962.5 468.5 966.3 468.6 968.7C468.8 971.1 469.4 973.6 470.4 975.5C471.4 977.3 472.9 979.2 474.4 979.9C476 980.7 478.9 979.9 479.8 979.9" stroke-width="1.6"/>
<path d="M484.6 962 L562.2 1007.2" stroke-width="1.6"/>
<path d="M500.8 964C502.3 962.4 507.3 957.5 510.2 954.5C513.1 951.6 515.6 949.6 518.3 946.4C521 943.3 524.4 937.9 526.4 935.6C528.5 933.4 529.2 933 530.5 932.9C531.7 932.8 533 933.8 533.9 934.9C534.7 936.1 535.1 937.9 535.6 939.7C536.1 941.5 536.7 944.7 537 945.8" stroke-width="1.6"/>
<path d="M541.6 902.5C541.6 906.3 541.4 919.3 541.6 924.8C541.7 930.3 542.5 933.8 542.6 935.6" stroke-width="1.6"/>
<path d="M584.2 938.3 L584.2 994.4" stroke-width="1.5"/>
<path d="M132.9 511.6 L132.9 568.3" stroke-width="1.5"/>
<path d="M257.7 445.9 L257.7 486.4" stroke-width="1.5"/>
<path d="M147.7 570.3C146.9 570.2 143.2 569.3 141.6 569.1C140.1 569 137.4 569.3 136.2 569.2C135 569.2 133.8 568.5 132.5 568.5C131.2 568.5 128.1 568.7 126.5 569.1C124.8 569.5 122 570.7 120.4 571.5C118.8 572.4 115.9 574.4 114.3 575.8C112.7 577.2 109.8 580 108.2 581.9C106.6 583.7 103.5 587.6 102.2 589.8C100.8 592 98.8 596 97.9 598.3C97 600.5 95.7 604.6 95.2 606.8C94.7 609 94.3 612.7 94.3 614.7C94.3 616.7 94.7 620.3 95.2 622C95.7 623.6 97.1 625.7 97.9 626.8C98.7 628 100.2 629.3 100.9 630.5C101.7 631.6 102.4 634.1 103.4 635.3C104.3 636.5 106.4 638.3 108.2 639.6C110.1 640.9 115.1 643.6 117.3 645.1C119.6 646.5 124.2 649.8 125.2 650.5" stroke-width="1.6"/>
<path d="M125.2 650.5 L153.5 643.2 L173.5 608 L166.5 581.3 L147.7 570.3" stroke-width="1.6"/>
<path d="M136.2 570C135.1 570.5 132 571.3 129.5 572.8C127 574.2 123.2 576.7 121 578.8C118.8 581 117.9 582.9 116.1 585.5C114.3 588.1 111.9 591.6 110 594.6C108.2 597.7 106.5 600.8 105.2 603.7C103.9 606.7 102.8 610.5 102.2 612.2C101.5 614 101.6 613.8 101.5 614.1" stroke-width="1.6"/>
<path d="M101.5 614.1C101.4 615.2 100.6 618.6 100.4 620.8C100.3 622.9 100.5 625.2 100.6 626.8C100.8 628.4 101.1 629.9 101.2 630.5" stroke-width="1.6"/>
<path d="M121 578.8 L138 588.6 L166.5 581.3" stroke-width="1.6"/>
<path d="M138 588.6C137.8 589.2 137.2 591.2 136.8 592.2C136.3 593.2 135.5 594.2 135.3 594.6" stroke-width="1.6"/>
<path d="M101.5 614.1 L119.2 623.2 L125.2 650.5" stroke-width="1.6"/>
<path d="M119.2 623.2C119.3 622.6 119.2 620.7 119.8 619.5C120.4 618.4 122.1 617.4 122.8 616.5C123.5 615.6 123.6 614.5 123.7 614.1" stroke-width="1.6"/>
<path d="M164.4 605.6C164.4 605 164.4 603.2 164.1 601.9C163.9 600.6 163.5 599 162.9 597.7C162.3 596.4 161.4 594.9 160.5 594C159.6 593.1 159.1 592.5 157.4 592.2C155.8 591.9 152.9 592 150.8 592.5C148.6 593 146.7 593.9 144.7 595.2C142.7 596.6 140.6 598.5 138.6 600.7C136.6 602.9 134.1 605.8 132.5 608.6C130.9 611.4 129.7 614.9 128.9 617.7C128 620.6 127.5 623.2 127.4 625.6C127.2 628 127.5 630.5 128 632.3C128.4 634.1 129.1 635.3 130.1 636.5C131.1 637.8 132.3 639 133.7 639.6C135.2 640.2 137 640.3 138.6 640.2C140.2 640 142.1 639.2 143.5 638.7C144.8 638.2 146 637.4 146.5 637.2" stroke-width="1.6"/>
<path d="M147.1 595.8C146.9 597 146.6 600.2 145.9 602.5C145.2 604.9 144.2 607.4 142.9 609.8C141.5 612.2 139.7 615 138 617.1C136.3 619.2 134.1 621.1 132.5 622.6C130.9 624.1 129 625.6 128.3 626.2" stroke-width="1.6"/>
<path d="M153.2 592.8C153.2 593.9 153.8 597 153.5 599.5C153.2 602 152.5 605.2 151.4 608C150.2 610.8 148.4 613.9 146.5 616.5C144.6 619.1 141.9 621.8 139.8 623.8C137.7 625.8 135.6 627.3 133.7 628.7C131.9 630 129.7 631.2 128.9 631.7" stroke-width="1.6"/>
<path d="M157.4 593.1C157.7 594.1 158.8 596.7 159 598.9C159.1 601.1 159 603.5 158.3 606.2C157.7 608.8 156.5 611.8 155 614.7C153.5 617.5 151.6 620.7 149.5 623.2C147.5 625.7 145.1 627.9 142.9 629.9C140.6 631.8 138 633.6 136.2 634.7C134.3 635.8 132.6 636.2 131.9 636.5" stroke-width="1.6"/>
<path d="M257.7 486.8C263.5 483 267.8 479.8 272.1 476.9C276.5 473.9 280.5 470.9 283.6 469.1C286.8 467.3 288.6 466.2 290.9 465.9C293.2 465.5 295.7 466 297.4 467C299.2 468 300.8 469.7 301.5 471.9C302.1 474 302 477 301.5 480C300.9 482.9 300 485.1 298.2 489.7C296.5 494.3 293.8 501 290.9 507.5C288.1 514 284.5 522.1 281.2 528.6C278 535.1 274.7 541.5 271.5 546.4C268.3 551.3 265.3 554.4 261.8 557.7C258.3 561.1 253.9 564.5 250.4 566.7C246.9 568.8 243.7 570 240.7 570.7C237.7 571.4 235 571.1 232.6 570.7C230.2 570.3 228.3 569.6 226.1 568.3C224 566.9 221.4 563.3 219.6 562.6C217.9 561.9 217.1 563.8 215.6 564.2C214.1 564.6 212.1 565.6 210.7 565C209.4 564.5 208.3 563.5 207.5 561C206.7 558.4 205.7 554.2 205.9 549.6C206 545 207.1 538.6 208.3 533.4C209.5 528.3 211.5 522.9 213.2 518.8C214.8 514.8 216.5 511.4 218 509.1C219.5 506.8 220.4 505.9 222.1 505.1C223.7 504.3 225.9 504.6 227.7 504.3C229.6 503.9 231.8 503.8 233.4 503C235 502.2 233.4 502.1 237.5 499.4C241.5 496.7 251.9 490.5 257.7 486.8Z" stroke-width="1.6"/>
<path d="M212.3 531.8C211.9 534 210.5 540.5 209.9 544.8C209.4 549.1 209 554.5 209.1 557.7C209.2 561 210.5 563.1 210.7 564.2" stroke-width="1.6"/>
<path d="M233.4 509.1C232.5 510.5 229.5 513.7 227.7 517.2C226 520.7 224.2 525.6 222.9 530.2C221.5 534.8 220.3 540.2 219.6 544.8C219 549.4 218.8 554.8 218.8 557.7C218.8 560.7 219.5 561.8 219.6 562.6" stroke-width="1.6"/>
<path d="M264.2 505.9C262.6 504.9 259.5 504.3 256.9 504.6C254.3 504.9 251.5 505.7 248.8 507.5C246.1 509.3 243.3 512.4 240.7 515.6C238.1 518.8 235.3 522.9 233.4 527C231.5 531 230 536.1 229.4 539.9C228.7 543.7 228.7 546.9 229.4 549.6C230 552.3 231.7 554.8 233.4 556.1C235.2 557.5 237.5 558 239.9 557.7C242.3 557.5 245.3 556.4 248 554.5C250.7 552.6 253.7 549.9 256.1 546.4C258.5 542.9 261 537.8 262.6 533.4C264.2 529.1 265.2 524.3 265.8 520.5C266.4 516.7 266.6 513.2 266.3 510.7C266 508.3 265.8 506.9 264.2 505.9Z" stroke-width="1.6"/>
<path d="M264.2 505.9C264.9 506.7 267.4 508.3 268.3 510.7C269.1 513.2 269.3 518.8 269.5 520.5" stroke-width="1.6"/>
<path d="M236.7 555.3C237.6 555.4 240 556.4 242.3 556.1C244.6 555.9 249.1 554.1 250.4 553.7" stroke-width="1.6"/>
<path d="M295 475.1C294.3 474.6 293 473.6 291.8 474.3C290.5 475 288.8 477.3 287.7 479.1C286.6 481 285.4 483.9 285.3 485.6C285.1 487.4 285.9 489.3 286.9 489.7C287.8 490.1 289.6 489.3 290.9 488.1C292.3 486.8 294.1 484.1 295 482.4C295.9 480.6 296.1 478.7 296.1 477.5C296.1 476.3 295.7 475.6 295 475.1Z" stroke-width="1.6"/>
<path d="M292.6 476.7C292 477.4 290.1 479.1 289.3 480.8C288.6 482.4 288.2 485.5 288 486.4" stroke-width="1.6"/>
<path d="M278.8 475.9 L290.1 468.6" stroke-width="1.6"/>
<path d="M535.5 376.2 L579.5 401.2" stroke-width="1.6"/>
<path d="M535.7 376.2 L723.5 719" stroke-width="1.6"/>
<path d="M728.2 728.5 L733.6 737.9" stroke-width="1.6"/>
<path d="M738.3 746.7 L908.4 1057.4" stroke-width="1.6"/>
<path d="M858.5 479.4 L858.5 534.9" stroke-width="1.5"/>
<path d="M654.9 418.7C650.8 416.2 625.6 400.5 619.9 397.5C614.2 394.4 609.1 392.8 606.2 392.5C603.3 392.2 597.3 393.5 594.9 395C592.6 396.4 587.7 402.1 586.2 405C584.7 407.9 582.7 416.7 582.5 420C582.2 423.2 582.8 430.1 583.7 432.4C584.6 434.8 584.8 436.7 589.9 439.9C595 443.1 623 457.6 627.4 459.9" stroke-width="1.6"/>
<path d="M612.9 395C611.2 395.7 605.4 397 602.4 399.5C599.4 402 596.9 405.6 594.9 410C592.9 414.3 590.9 420.8 590.4 425.5C589.9 430.1 591.2 435 591.9 437.9C592.7 440.9 594.4 442.1 594.9 442.9" stroke-width="1.6"/>
<path d="M619.4 398.6C617.7 399.3 611.9 400.6 608.9 403.1C605.9 405.6 603.4 409.3 601.4 413.6C599.4 417.9 597.4 424.4 596.9 429.1C596.4 433.7 597.7 438.7 598.4 441.6C599.2 444.4 600.8 445.6 601.2 446.4" stroke-width="1.6"/>
<path d="M625.9 402.2C624.2 403 618.4 404.2 615.4 406.7C612.4 409.2 609.9 412.9 607.9 417.2C605.9 421.5 603.9 428 603.4 432.7C602.9 437.4 604.3 442.3 604.9 445.2C605.6 448 607.1 449 607.5 449.8" stroke-width="1.6"/>
<path d="M632.4 405.8C630.7 406.6 624.9 407.8 621.9 410.3C618.9 412.8 616.4 416.5 614.4 420.8C612.4 425.2 610.4 431.7 609.9 436.3C609.4 441 610.8 446 611.4 448.8C612.1 451.6 613.4 452.5 613.8 453.3" stroke-width="1.6"/>
<path d="M638.9 409.5C637.2 410.2 631.4 411.5 628.4 414C625.4 416.5 622.9 420.1 620.9 424.5C618.9 428.8 616.9 435.3 616.4 439.9C615.9 444.6 617.3 449.6 617.9 452.4C618.5 455.2 619.8 456 620.1 456.7" stroke-width="1.6"/>
<path d="M645.4 413.1C643.7 413.8 637.9 415.1 634.9 417.6C631.9 420.1 629.4 423.7 627.4 428.1C625.4 432.4 623.4 438.9 622.9 443.6C622.4 448.2 623.8 453.3 624.4 456.1C625 458.8 626.1 459.5 626.4 460.1" stroke-width="1.6"/>
<path d="M651.9 416.7C650.2 417.5 644.4 418.7 641.4 421.2C638.4 423.7 635.9 427.4 633.9 431.7C631.9 436 629.9 442.5 629.4 447.2C628.9 451.8 630.4 456.9 630.9 459.7C631.5 462.4 632.4 462.9 632.7 463.6" stroke-width="1.6"/>
<path d="M652.4 418C650.3 418.7 643.4 419.6 639.9 422.5C636.4 425.3 633.2 430.4 631.2 434.9C629.1 439.5 628 445.8 627.4 449.9C626.9 454.1 627.8 458.3 627.9 459.9" stroke-width="1.6"/>
<path d="M654.9 418.7 L1009.9 622.5" stroke-width="1.6"/>
<path d="M627.4 459.9 L983.6 665.1" stroke-width="1.6"/>
<path d="M1009.9 622.5 L1082.8 667.1" stroke-width="1.6"/>
<path d="M983.6 665.1 L1046.3 701.5" stroke-width="1.6"/>
<path d="M1009.9 624C1008.2 624.9 1003.1 627 999.8 629.6C996.4 632.3 992.3 636 989.6 639.8C987 643.5 985 647.7 984 651.9C982.9 656.1 983.6 662.9 983.6 665.1" stroke-width="1.6"/>
<path d="M993.7 622.5C995 622.3 999.3 621 1001.8 621.1C1004.3 621.3 1007.7 623.2 1008.9 623.6" stroke-width="1.6"/>
<path d="M976.5 652.9C976.6 654.1 976.6 658.3 977.5 660C978.3 661.7 980.9 662.5 981.5 663.1" stroke-width="1.6"/>
<path d="M1083.5 667.3C1083.3 667.7 1083.1 668.9 1082.7 669.7C1082.3 670.5 1081.3 671.7 1081.1 672.1" stroke-width="1.6"/>
<path d="M1097.3 649.4C1096.6 649.3 1095 648.7 1093.2 648.6C1091.5 648.5 1088.9 648.5 1086.7 648.8C1084.6 649.1 1082.4 649.7 1080.2 650.7C1078.1 651.6 1075.7 653.1 1073.8 654.3C1071.9 655.5 1070.8 656.1 1068.9 658C1067 659.8 1064.6 662.8 1062.4 665.7C1060.3 668.6 1058 671.9 1055.9 675.4C1053.9 678.9 1051.8 682.9 1050.3 686.7C1048.7 690.5 1047.4 694.6 1046.6 698.1C1045.8 701.6 1045.5 704.8 1045.4 707.8C1045.3 710.8 1045.7 713.6 1046.2 715.9C1046.7 718.2 1047.4 719.8 1048.6 721.6C1049.9 723.3 1051.2 724.8 1053.5 726.4C1055.8 728.1 1059.3 729.5 1062.4 731.3C1065.5 733.1 1069.7 735.8 1072.1 737C1074.6 738.1 1075.1 738 1077 738.2C1078.9 738.3 1081.5 738.2 1083.5 737.8C1085.5 737.4 1087.4 736.6 1089.2 735.8C1090.9 734.9 1093.2 733.4 1094 732.9" stroke-width="1.6"/>
<path d="M1097.3 649.4 L1107 655.9" stroke-width="1.6"/>
<path d="M1107 655.9C1107.9 656.3 1110.8 657.1 1112.7 658.4C1114.5 659.6 1116.7 661.3 1118.3 663.2C1120 665.1 1121.4 667.5 1122.4 669.7C1123.3 671.9 1123.7 674.2 1124 676.2C1124.3 678.2 1124.3 680.9 1124.4 681.9" stroke-width="1.6"/>
<path d="M1083.5 667.3C1084.6 666.6 1087.5 664.6 1090 663.2C1092.4 661.9 1095.2 660.3 1098.1 659.2C1100.9 658 1105.5 656.8 1107 656.3" stroke-width="1.6"/>
<path d="M1047.4 697.7 L1062.4 705.8" stroke-width="1.6"/>
<path d="M1064.8 699.3C1064.6 699.8 1064 701 1063.6 702.1C1063.3 703.2 1063 705.2 1062.8 705.8" stroke-width="1.6"/>
<path d="M1062.4 705.8C1062.3 706.9 1061.8 710.4 1061.8 712.7C1061.7 714.9 1061.8 717 1062 719.1C1062.3 721.3 1062.6 723.7 1063.2 725.6C1063.8 727.5 1064.6 728.9 1065.7 730.5C1066.7 732.1 1068.6 734.3 1069.7 735.3C1070.8 736.4 1071.7 736.7 1072.1 737" stroke-width="1.6"/>
<path d="M1107.8 673.8C1107 673.4 1104.6 672.1 1102.9 671.7C1101.3 671.4 1100 671.3 1098.1 671.7C1096.2 672.1 1093.7 672.9 1091.6 674.2C1089.4 675.4 1087.3 677.2 1085.1 679.4C1082.9 681.7 1080.4 684.6 1078.6 687.5C1076.8 690.5 1075.2 694 1074.2 697.3C1073.1 700.5 1072.3 704 1072.1 707C1071.9 710 1072.3 712.7 1072.9 715.1C1073.6 717.5 1074.6 719.7 1076.2 721.6C1077.8 723.5 1080.1 724.8 1082.7 726.4C1085.2 728.1 1090.1 730.5 1091.6 731.3" stroke-width="1.6"/>
<path d="M1111.8 675C1110.9 674.9 1108.2 674.3 1106.2 674.6C1104.1 674.8 1102 675.4 1099.7 676.6C1097.4 677.8 1094.7 679.6 1092.4 681.9C1090.1 684.1 1087.8 687 1085.9 690C1084 692.9 1082.2 696.5 1081.1 699.7C1079.9 702.9 1079.2 706.4 1079 709.4C1078.8 712.4 1079.2 715.1 1079.8 717.5C1080.4 720 1081.3 722.1 1082.7 724C1084.1 725.9 1087.4 728.1 1088.3 728.9" stroke-width="1.6"/>
<path d="M1117.5 678.6C1116.4 678.6 1113.2 678.2 1111 678.6C1108.9 679 1106.9 679.7 1104.6 681.1C1102.3 682.4 1099.6 684.3 1097.3 686.7C1095 689.2 1092.5 692.5 1090.8 695.6C1089 698.7 1087.5 702.1 1086.7 705.4C1085.9 708.6 1085.8 712.3 1085.9 715.1C1086.1 717.9 1086.6 720.2 1087.5 722.4C1088.5 724.5 1090.5 726.6 1091.6 728.1C1092.7 729.5 1093.6 730.8 1094 731.3" stroke-width="1.6"/>
<path d="M1124.4 681.9C1122.8 681.5 1121.1 681.6 1119.1 681.9C1117.2 682.1 1114.8 682.5 1112.7 683.5C1110.5 684.4 1108.3 685.6 1106.2 687.5C1104 689.4 1101.6 692.1 1099.7 694.8C1097.8 697.5 1096 700.8 1094.8 703.7C1093.6 706.7 1092.7 709.8 1092.4 712.7C1092.1 715.5 1092.4 718.3 1092.8 720.8C1093.2 723.2 1094 725.2 1094.8 727.2C1095.7 729.3 1096.7 731.5 1098.1 732.9C1099.4 734.3 1101.2 735.3 1102.9 735.8C1104.7 736.2 1106.4 736 1108.6 735.3C1110.8 734.7 1113.5 733.7 1115.9 732.1C1118.3 730.5 1121 728.1 1123.2 725.6C1125.4 723.2 1127.3 720.2 1128.9 717.5C1130.4 714.8 1131.6 712.1 1132.5 709.4C1133.4 706.7 1133.9 703.9 1134.1 701.3C1134.3 698.7 1134.1 696.2 1133.7 694C1133.4 691.9 1132.9 690 1132.1 688.3C1131.3 686.7 1130.1 685.4 1128.9 684.3C1127.6 683.2 1126 682.3 1124.4 681.9Z" stroke-width="1.6"/>
<path d="M1117.1 692.8C1118 692.5 1120.7 691.2 1122.4 690.8C1124.1 690.4 1125.9 690.2 1127.2 690.4C1128.6 690.5 1129.9 691.4 1130.5 691.6" stroke-width="1.6"/>
<path d="M1130.5 701.3C1130.2 700.6 1129.7 698.3 1128.9 697.3C1128.1 696.2 1126.8 695.3 1125.6 694.8C1124.4 694.4 1123.1 694.2 1121.6 694.4C1120.1 694.7 1118.5 695.3 1116.7 696.5C1115 697.6 1112.8 699.3 1111 701.3C1109.3 703.3 1107.3 706.2 1106.2 708.6C1105 711 1104.4 713.6 1104.1 715.9C1103.9 718.2 1104.4 720.5 1105 722.4C1105.6 724.3 1106.6 726.2 1107.8 727.2C1108.9 728.3 1110.5 728.7 1111.8 728.9C1113.2 729 1115.2 728.2 1115.9 728.1" stroke-width="1.6"/>
<path d="M1101.3 721.2C1101.3 721.9 1100.9 724.1 1101.3 725.6C1101.7 727.2 1102.7 729.2 1103.7 730.5C1104.8 731.8 1107.1 732.8 1107.8 733.3" stroke-width="1.6"/>
<path d="M1107.8 673.8 L1121.6 681.9" stroke-width="1.6"/>
<path d="M950.3 769.7 L950.3 828.5" stroke-width="1.5"/>
<path d="M950.9 828.5C947.9 830.2 940.8 833.9 932.7 838.6C924.6 843.3 912.4 849.8 902.3 856.8C892.2 863.9 882.9 872 871.9 881.1C860.9 890.3 842.4 906.5 836.5 911.5" stroke-width="1.6"/>
<path d="M826.3 920.6C823.1 922.8 812.3 929.9 807.1 933.8C801.9 937.7 799.3 940.2 794.9 943.9C790.6 947.7 785.5 951.4 780.8 956.1C776 960.8 771.3 966.2 766.6 972.3C761.9 978.4 756.8 985.5 752.4 992.6C748 999.6 743.6 1007.4 740.3 1014.8C736.9 1022.3 734.1 1029.7 732.2 1037.1C730.2 1044.5 729.2 1052.6 728.5 1059.4C727.8 1066.1 727.7 1071.2 728.1 1077.6C728.5 1084 729.8 1091.1 731.1 1097.9C732.5 1104.6 734.5 1111.4 736.2 1118.1C737.9 1124.9 740.3 1132.3 741.3 1138.4C742.3 1144.5 742.4 1149.5 742.3 1154.6C742.1 1159.7 740.6 1163.7 740.3 1168.8C739.9 1173.8 740.3 1182.3 740.3 1185" stroke-width="1.6"/>
<path d="M789.9 946C787.7 948 780.9 953.7 776.7 958.1C772.5 962.5 767.4 968.6 764.6 972.3C761.7 976 760.3 979 759.5 980.4" stroke-width="1.6"/>
<path d="M908.4 1057.4 L845.6 1019.9" stroke-width="1.6"/>
<path d="M1020 861.9C1017.2 863.1 1009.7 866.1 1003.6 869C997.5 871.9 990.1 875.2 983.3 879.1C976.6 883 970.3 886.7 963.1 892.3C955.8 897.9 943.7 909.2 939.8 912.5" stroke-width="1.6"/>
<path d="M876 961.8C880.4 959.8 892.2 955.4 902.3 950C912.4 944.7 927.3 936.2 936.7 929.8C946.2 923.3 952.1 916.9 959 911.5C965.9 906.1 975 899.7 978.3 897.4" stroke-width="1.6"/>
<path d="M880 947 L922.6 924.1" stroke-width="1.6"/>
<path d="M978.3 897.4C977.9 899 976.2 907 975.2 911.5C974.3 916 971.2 930.4 970.2 935.8C969.1 941.3 966.9 954.3 966.1 958.1C965.3 961.9 963.9 966.5 963.1 968.2C962.2 970 961.4 971.4 959 973.3C956.6 975.2 947.5 980.8 942.8 984.5C938.1 988.1 923.9 999.9 918.5 1004.7C913.1 1009.5 898.8 1023.5 896.2 1026" stroke-width="1.6"/>
<path d="M994.5 929.8C994.4 925.7 994.4 911.2 993.9 905.5C993.3 899.7 992.8 897.5 991.4 895.3C990 893.1 987.7 891.8 985.3 892.3C983 892.8 978.6 897.4 977.2 898.4" stroke-width="1.6"/>
<path d="M1000.5 1020.9C999 1021.2 994.6 1020.9 991.4 1022.9C988.2 1025 985 1029.7 981.3 1033.1C977.6 1036.4 975.6 1039 969.1 1043.2C962.7 1047.4 950.6 1053.8 942.8 1058.4C935 1062.9 929.3 1066.5 922.6 1070.5C915.8 1074.6 908 1078.8 902.3 1082.7C896.6 1086.6 891.8 1090.3 888.1 1093.8C884.4 1097.4 882.4 1099.9 880 1104C877.7 1108 876.3 1112.4 873.9 1118.1C871.6 1123.9 868.5 1132.3 865.8 1138.4C863.1 1144.5 860.4 1149.2 857.7 1154.6C855 1160 852.7 1164.7 849.6 1170.8C846.6 1176.9 842 1185.1 839.5 1191.1C837 1197 835.6 1203.7 834.8 1206.2" stroke-width="1.6"/>
<path d="M917.5 1057.4 L972.2 1012.4" stroke-width="1.6"/>
<path d="M903.3 1067.9C901.1 1069.5 894 1074.3 890.1 1077.6C886.3 1080.9 883.1 1084 880 1087.8C877 1091.5 874.3 1095.5 871.9 1099.9C869.6 1104.3 866.9 1111.7 865.8 1114.1" stroke-width="1.6"/>
<path d="M853.7 975.3C851.7 976 845.6 977 841.5 979.4C837.5 981.7 833.1 985.3 829.4 989.5C825.7 993.7 822 999.5 819.3 1004.7C816.5 1009.9 814.5 1015.5 813.2 1020.9C811.9 1026.3 811.4 1031.7 811.6 1037.1C811.7 1042.5 812.6 1048.8 814.2 1053.3C815.8 1057.9 818.4 1061.6 821.3 1064.5C824.1 1067.3 827.7 1069.7 831.4 1070.5C835.1 1071.4 839.5 1070.9 843.6 1069.5C847.6 1068.2 852 1065.5 855.7 1062.4C859.4 1059.4 863.3 1054.3 865.8 1051.3C868.4 1048.3 870.1 1045.4 870.9 1044.2" stroke-width="1.6"/>
<path d="M841.5 974.3C839.5 975.7 833.1 979 829.4 982.4C825.7 985.8 821.8 990.2 819.3 994.6C816.7 999 815 1006.4 814.2 1008.8" stroke-width="1.6"/>
<path d="M817.2 1045.2C817.4 1047.2 817.6 1054 818.2 1057.4C818.9 1060.7 820.8 1064.1 821.3 1065.5" stroke-width="1.6"/>
<path d="M861.8 984.5C860.1 984.6 855.4 983.8 851.7 985.5C847.9 987.2 843.2 990.7 839.5 994.6C835.8 998.5 832.1 1003.7 829.4 1008.8C826.7 1013.8 824.5 1019.6 823.3 1025C822.1 1030.4 821.8 1036.3 822.3 1041.2C822.8 1046.1 824.1 1051 826.3 1054.3C828.5 1057.7 831.9 1060.4 835.5 1061.4C839 1062.4 843.9 1062.1 847.6 1060.4C851.3 1058.7 856 1052.8 857.7 1051.3" stroke-width="1.6"/>
<path d="M852.7 991.5C853.3 992.7 855.7 996.3 856.7 998.6C857.7 1001 858.4 1004.5 858.7 1005.7" stroke-width="1.6"/>
<path d="M861.8 984.5C862.6 985.3 865.5 987.2 866.9 989.5C868.2 991.9 869.6 995.4 869.9 998.6C870.2 1001.8 869.9 1005.2 868.9 1008.8C867.9 1012.3 864.1 1017 863.8 1019.9C863.5 1022.8 865.2 1024.5 866.9 1026C868.5 1027.5 872.8 1028.5 873.9 1029" stroke-width="1.6"/>
<path d="M824.3 1039.1C825.3 1039.5 828.2 1041.2 830.4 1041.2C832.6 1041.2 836.3 1039.5 837.5 1039.1" stroke-width="1.6"/>
<path d="M825.3 1053.3C826.7 1053.3 830.7 1054 833.4 1053.3C836.1 1052.6 838.8 1051.3 841.5 1049.3C844.2 1047.2 847.6 1043.5 849.6 1041.2C851.7 1038.8 853 1036.1 853.7 1035.1" stroke-width="1.6"/>
<path d="M839.5 1051.3 L850.6 1057.4" stroke-width="1.6"/>
<path d="M852.7 1055.3 L859.8 1051.3" stroke-width="1.6"/>
<path d="M871.9 977.4C873.3 978 877.8 979.2 880 981.4C882.2 983.6 883.8 987.2 885.1 990.5C886.4 993.9 887.3 999.8 887.7 1001.7" stroke-width="1.6"/>
<path d="M882 1014.8 L873.9 1030" stroke-width="1.6"/>
<path d="M885.1 1020.9 L880 1033.1" stroke-width="1.6"/>
<path d="M891.2 1030 L882 1035.1" stroke-width="1.6"/>
<path d="M839.5 1077.6C838.5 1079 835.5 1082 833.4 1085.7C831.4 1089.4 828.9 1094.5 827.4 1099.9C825.8 1105.3 825.2 1111.7 824.3 1118.1C823.5 1124.5 822.5 1131.6 822.3 1138.4C822.1 1145.1 822.6 1151.9 823.3 1158.6C824 1165.4 825.5 1173.7 826.3 1178.9C827.2 1184.1 828 1188.2 828.4 1190" stroke-width="1.6"/>
<path d="M805.1 1004.7C803.4 1007.7 798.3 1016.2 794.9 1022.9C791.6 1029.7 787.5 1037.5 784.8 1045.2C782.1 1053 780.1 1061.4 778.7 1069.5C777.4 1077.6 776.7 1085.7 776.7 1093.8C776.7 1101.9 777.7 1110.7 778.7 1118.1C779.8 1125.6 781.4 1131.6 782.8 1138.4C784.1 1145.1 785.7 1151.6 786.8 1158.6C788 1165.7 789.4 1177.2 789.9 1180.9" stroke-width="1.6"/>
<path d="M857.3 1133.3 L830.4 1197.1" stroke-width="1.6"/>
<path d="M801 1185 L817.2 1175.9" stroke-width="1.6"/>
<path d="M740.3 1185C740.3 1186 739.7 1188.2 740.3 1191.3C740.8 1194.4 742.1 1199.6 743.6 1203.5C745.2 1207.3 747.3 1210.9 749.7 1214.3C752.1 1217.7 754.9 1220.9 757.8 1223.7C760.7 1226.5 764.3 1229.4 767.3 1231.2C770.2 1233 772.7 1233.9 775.4 1234.5C778.1 1235.2 781 1235.5 783.5 1235.2C785.9 1234.9 787.3 1234 790.2 1232.5C793.1 1231 797 1228.7 801 1226.4C805.1 1224.2 810 1221.6 814.5 1219C819 1216.4 824.7 1213 828 1210.9C831.4 1208.8 833 1208.1 834.8 1206.2C836.6 1204.3 837.3 1202.6 838.8 1199.4C840.4 1196.3 843.3 1189.3 844.2 1187.3" stroke-width="1.6"/>
<path d="M752.7 1190.6C752.9 1189.6 752.9 1186.3 753.8 1184.6C754.6 1182.9 756.2 1181.3 757.8 1180.5C759.4 1179.7 761.2 1179.4 763.2 1179.8C765.2 1180.3 767.7 1181.4 770 1183.2C772.2 1185 774.8 1187.9 776.7 1190.6C778.6 1193.3 780.4 1196.4 781.4 1199.4C782.5 1202.5 782.9 1206.3 782.8 1208.9C782.7 1211.5 781.9 1213.5 780.8 1214.9C779.6 1216.4 777.6 1217.2 776 1217.7C774.5 1218.1 772.8 1217.9 771.3 1217.7C769.9 1217.4 767.9 1216.2 767.3 1215.9" stroke-width="1.6"/>
<path d="M950.9 828.5C953.2 827.5 959.4 823.8 964.3 822.4C969.2 821.1 974.4 820.6 980.5 820.4C986.6 820.2 994.7 820.2 1000.8 821.4C1006.8 822.6 1011.2 824.6 1017 827.5C1022.7 830.3 1029.1 835.1 1035.2 838.6C1041.3 842.2 1047.7 845.7 1053.4 848.7C1059.2 851.8 1064.2 854 1069.6 856.8C1075 859.7 1081.1 862.9 1085.8 866C1090.6 869 1094.3 871.5 1098 875.1C1101.7 878.6 1105.1 882.5 1108.1 887.2C1111.2 892 1113.2 896.7 1116.2 903.4C1119.3 910.2 1122.6 919 1126.3 927.7C1130.1 936.5 1135.1 948.3 1138.5 956.1C1141.9 963.9 1144.6 969.3 1146.6 974.3C1148.6 979.4 1149.7 982.1 1150.7 986.5C1151.6 990.9 1151.9 995.9 1152.3 1000.7C1152.6 1005.4 1152.3 1011.1 1152.7 1014.8C1153.1 1018.5 1154.3 1019.9 1154.7 1022.9C1155.1 1026 1155.4 1029.3 1155.1 1033.1C1154.8 1036.8 1154.1 1040.5 1152.7 1045.2C1151.3 1049.9 1149.6 1054.3 1146.6 1061.4C1143.6 1068.5 1139.2 1078 1134.5 1087.8C1129.7 1097.5 1123.6 1109.7 1118.2 1120.2C1112.8 1130.6 1107.4 1140.8 1102 1150.5C1096.6 1160.3 1089.9 1171.8 1085.8 1178.9C1081.8 1186 1079.1 1190.7 1077.7 1193.1" stroke-width="1.6"/>
<path d="M1141.5 1018.9C1142.7 1018 1146.8 1014.4 1148.6 1013.8C1150.5 1013.2 1152 1015 1152.7 1015.2" stroke-width="1.6"/>
<path d="M1152.7 1046.2C1154 1049.1 1158.1 1057.5 1160.8 1063.4C1163.5 1069.4 1166.9 1075.9 1168.9 1081.7C1170.9 1087.4 1172.3 1093.2 1172.9 1097.9C1173.6 1102.6 1173.6 1105.3 1172.9 1110C1172.3 1114.8 1171.2 1119.5 1168.9 1126.2C1166.5 1133 1162.5 1142.4 1158.8 1150.5C1155 1158.6 1150.5 1167.8 1146.6 1174.8C1142.7 1181.9 1137.3 1190 1135.5 1193.1" stroke-width="1.6"/>
<path d="M1003.6 869.4C1006.5 868.2 1015.8 863.8 1021 861.9C1026.3 860 1029.8 858.9 1035.2 857.9C1040.6 856.8 1047.7 855.8 1053.4 855.8C1059.2 855.8 1064.9 856.5 1069.6 857.9C1074.4 859.2 1079.8 862.9 1081.8 863.9" stroke-width="1.6"/>
<path d="M963.3 972.3 L986.6 990.1" stroke-width="1.6"/>
<path d="M1030.1 1000.7C1029.4 1000 1024.4 995.4 1023 994.6C1021.7 993.8 1018.3 993 1017 992.6C1015.7 992.1 1010.9 991.3 1009.9 990.5C1008.9 989.7 1007.1 990.3 1006.8 984.5C1006.5 978.6 1006.8 941.3 1006.8 931.8C1006.8 922.3 1006.5 894.4 1006.8 889.3C1007.1 884.1 1008.5 881.6 1009.9 880.1C1011.3 878.7 1018.3 875.9 1021 875.1C1023.8 874.3 1034 872.2 1037.2 872C1040.5 871.8 1050.8 872.6 1053.4 873C1056.1 873.5 1061.3 875.1 1063.6 876.1C1065.8 877.1 1073.9 881.7 1075.7 883.2C1077.5 884.7 1081.1 890 1081.8 891.3C1082.5 892.6 1082.9 895.4 1082.8 896.3C1082.7 897.3 1081 900 1080.8 900.4" stroke-width="1.6"/>
<path d="M1080.8 900.4 L1010.9 971.3" stroke-width="1.6"/>
<path d="M1063.6 876.1 L1092.9 894.3" stroke-width="1.6"/>
<path d="M1082.8 899.4 L1092.3 903.8" stroke-width="1.6"/>
<path d="M1073.7 940.3 L1039.7 989.5" stroke-width="1.6"/>
<path d="M1100 917.6C1097.7 920.8 1069.6 960.1 1065.6 966.2C1061.5 972.4 1041 1006.9 1039.3 1009.8" stroke-width="1.6"/>
<path d="M1099 919.6C1099.6 921.1 1102.5 928 1104.1 931.8C1105.6 935.6 1110.9 948.5 1112.2 952C1113.5 955.6 1115.1 960.4 1115.2 962.2C1115.3 963.9 1114 966.3 1113.2 967.2C1112.4 968.2 1108.7 969.9 1108.1 970.3" stroke-width="1.6"/>
<path d="M1108.1 970.3 L1037.2 1010.8" stroke-width="1.6"/>
<path d="M1100 917.6C1100.2 917.5 1101.5 916.4 1102 916.6C1102.5 916.8 1104 917.5 1105.1 919.6C1106.2 921.8 1112.4 936 1113.2 937.9" stroke-width="1.6"/>
<path d="M1116.2 968.2 L1122.3 972.3" stroke-width="1.6"/>
<path d="M1037.2 1010.8C1036.7 1012.8 1035.2 1017.5 1034.2 1022.9C1033.2 1028.3 1032 1037.1 1031.1 1043.2C1030.3 1049.3 1029.3 1055.7 1029.1 1059.4C1029 1063.1 1030 1064.5 1030.1 1065.5" stroke-width="1.6"/>
<path d="M1030.1 1065.5 L1130.4 989.5" stroke-width="1.6"/>
<path d="M1130.4 989.5C1131.1 989.2 1133.1 987.3 1134.5 987.5C1135.8 987.7 1137.4 988 1138.5 990.5C1139.6 993.1 1140.5 1000.7 1140.9 1002.7" stroke-width="1.6"/>
<path d="M1129.4 992.6 L1136.5 1017.9" stroke-width="1.6"/>
<path d="M1038.2 1049.3 L1085.8 1008.8" stroke-width="1.6"/>
<path d="M1024.1 1049.3C1024.2 1050.6 1024.2 1054.5 1025.1 1057.4C1025.9 1060.2 1027.1 1062.8 1029.1 1066.5C1031.1 1070.2 1033.8 1074.4 1037.2 1079.6C1040.6 1084.9 1045.3 1091.8 1049.4 1097.9C1053.4 1104 1058.2 1110.4 1061.5 1116.1C1064.9 1121.8 1067.4 1126.9 1069.6 1132.3C1071.8 1137.7 1073.4 1142.8 1074.7 1148.5C1076 1154.3 1076.8 1159.3 1077.3 1166.7C1077.8 1174.2 1077.7 1185.2 1077.7 1193.1C1077.8 1200.9 1077.7 1210.5 1077.7 1213.9" stroke-width="1.6"/>
<path d="M1000.6 1020.9C1000.9 1021.2 1001.6 1020.9 1002.8 1022.9C1004 1025 1006.7 1029.3 1007.9 1033.1C1009 1036.8 1009.7 1041.5 1009.9 1045.2C1010 1048.9 1008.7 1051.6 1008.9 1055.3C1009 1059.1 1009.7 1063.8 1010.9 1067.5C1012.1 1071.2 1014.4 1074.9 1016 1077.6C1017.5 1080.3 1019.3 1082.7 1020 1083.7" stroke-width="1.6"/>
<path d="M1024.1 1132.3C1024.4 1131.3 1024.7 1127.4 1026.1 1126.2C1027.4 1125.1 1030 1124.5 1032.2 1125.2C1034.4 1125.9 1037.1 1127.8 1039.3 1130.3C1041.4 1132.8 1044 1137 1045.3 1140.4C1046.7 1143.8 1047.5 1148.2 1047.4 1150.5C1047.2 1152.9 1045.7 1153.9 1044.3 1154.6C1043 1155.3 1040.8 1154.9 1039.3 1154.6C1037.7 1154.3 1035.9 1152.9 1035.2 1152.6" stroke-width="1.6"/>
<path d="M1024.1 1166.7C1024.4 1165.7 1024.7 1161.9 1026.1 1160.7C1027.4 1159.5 1030 1159 1032.2 1159.7C1034.4 1160.3 1037.1 1162.2 1039.3 1164.7C1041.4 1167.3 1044 1171.5 1045.3 1174.8C1046.7 1178.2 1047.5 1182.6 1047.4 1185C1047.2 1187.3 1045.7 1188.4 1044.3 1189C1043 1189.7 1040.8 1189.4 1039.3 1189C1037.7 1188.7 1035.9 1187.3 1035.2 1187" stroke-width="1.6"/>
<path d="M1024.1 1201.2C1024.4 1200.2 1024.7 1196.3 1026.1 1195.1C1027.4 1193.9 1030 1193.4 1032.2 1194.1C1034.4 1194.8 1037.1 1196.6 1039.3 1199.2C1041.4 1201.7 1044 1205.9 1045.3 1209.3C1046.7 1212.7 1047.5 1217 1047.4 1219.4C1047.2 1221.8 1045.7 1222.8 1044.3 1223.5C1043 1224.1 1040.8 1223.8 1039.3 1223.5C1037.7 1223.1 1035.9 1221.8 1035.2 1221.4" stroke-width="1.6"/>
<path d="M1059.1 1183 L1059.1 1213.9" stroke-width="1.6"/>
<path d="M1162.8 1109C1162.5 1108 1162.1 1104.3 1160.8 1102.9C1159.4 1101.6 1156.9 1100.4 1154.7 1100.9C1152.5 1101.4 1149.8 1103.4 1147.6 1106C1145.4 1108.5 1142.7 1112.7 1141.5 1116.1C1140.4 1119.5 1140 1123.5 1140.5 1126.2C1141 1128.9 1142.7 1131.5 1144.6 1132.3C1146.4 1133.2 1150.5 1131.5 1151.7 1131.3" stroke-width="1.6"/>
<path d="M1143.6 1146.5C1143.2 1145.5 1142.9 1141.7 1141.5 1140.4C1140.2 1139.1 1137.7 1138.3 1135.5 1138.8C1133.3 1139.3 1130.6 1140.8 1128.4 1143.5C1126.2 1146.1 1123.5 1151 1122.3 1154.6C1121.1 1158.1 1120.8 1162.1 1121.3 1164.7C1121.8 1167.4 1123.5 1169.7 1125.3 1170.4C1127.2 1171.1 1131.2 1169 1132.4 1168.8" stroke-width="1.6"/>
<path d="M1125.3 1181.9C1125 1180.9 1124.7 1177.1 1123.3 1175.9C1122 1174.6 1119.4 1173.7 1117.2 1174.2C1115 1174.7 1112.4 1176.3 1110.1 1178.9C1107.9 1181.5 1104.9 1186.5 1103.7 1190C1102.4 1193.6 1102 1197.6 1102.4 1200.2C1102.9 1202.8 1104.6 1205 1106.5 1205.6C1108.4 1206.3 1112.6 1204.5 1113.8 1204.2" stroke-width="1.6"/>
<path d="M921 1070.4 L921 1218.2" stroke-width="1.6"/>
<path d="M930.1 1072.4 L930.1 1221.3" stroke-width="1.6"/>
<path d="M1011.2 1112.9 L1011.2 1267.9" stroke-width="1.6"/>
<path d="M930.1 1070.4 L1011.2 1112.9" stroke-width="1.6"/>
<path d="M930.1 1075.4 L1008.1 1118" stroke-width="1.6"/>
<path d="M931.1 1073.4 L943.3 1079.9" stroke-width="3"/>
<path d="M989.9 1106.4 L1008.1 1116.4" stroke-width="3"/>
<path d="M929.1 1147.4 L1008.1 1190.9" stroke-width="1.6"/>
<path d="M930.1 1150.8 L1008.1 1193.3" stroke-width="1.6"/>
<path d="M931.1 1148.8 L943.3 1155.3" stroke-width="3"/>
<path d="M989.9 1181.8 L1008.1 1191.7" stroke-width="3"/>
<path d="M929.1 1220.9 L1008.1 1264.4" stroke-width="1.6"/>
<path d="M930.1 1224.3 L1008.1 1266.9" stroke-width="1.6"/>
<path d="M931.1 1222.3 L943.3 1228.8" stroke-width="3"/>
<path d="M989.9 1255.3 L1008.1 1265.2" stroke-width="3"/>
<path d="M1008.1 1266.9 L1011.2 1267.9" stroke-width="1.6"/>
<path d="M1058.8 1182.8 L1058.8 1252.7" stroke-width="1.6"/>
<path d="M1058.8 1252.7C1058.4 1254.4 1058.1 1259.8 1056.7 1262.8C1055.4 1265.8 1051.7 1269.6 1050.7 1270.9" stroke-width="1.6"/>
<path d="M920.9 1218.5C920.9 1220.7 921 1231.4 920.5 1240.8C920.1 1250.1 917.5 1299.5 916.5 1311.7C915.4 1323.8 911.4 1351.6 910.4 1362.3C909.4 1373 907.3 1408.9 906.3 1419C905.3 1429.1 901.4 1454.1 900.3 1463.6C899.1 1473.1 896 1505.7 895.2 1514.2C894.4 1522.7 892.4 1544.2 892.2 1548.6C891.9 1553.1 892.1 1556.7 892.6 1558.8C893.1 1560.8 895.8 1567.1 897.2 1568.9C898.6 1570.7 904.3 1575.6 906.3 1577C908.4 1578.4 916.4 1582.5 917.5 1583.1" stroke-width="1.6"/>
<path d="M1077.5 1192.2C1077.5 1197 1077.7 1235.1 1077.5 1240.8C1077.3 1246.4 1076.2 1247.2 1075.5 1248.9C1074.8 1250.5 1072.1 1255.3 1070.4 1257C1068.7 1258.6 1060.1 1263.6 1058.2 1265.1C1056.4 1266.6 1057.8 1268.6 1052.2 1272.2C1046.5 1275.7 1007.8 1297 1001.5 1300.5C995.3 1304.1 991.2 1306.3 989.4 1307.6C987.6 1308.9 984.1 1312.3 983.3 1313.7C982.5 1315.1 981.5 1314.9 981.3 1321.8C981 1328.7 980.8 1371.4 980.9 1382.6C981 1393.7 981.8 1426.5 982.3 1433.2C982.7 1439.9 984.4 1446 985.3 1449.4C986.2 1452.8 990.2 1464.2 991.4 1467.6C992.6 1471.1 996.7 1480.2 997.5 1483.8C998.3 1487.5 999.2 1498.5 999.5 1504.1C999.8 1509.7 1000.1 1536.4 1000.1 1539.9" stroke-width="1.6"/>
<path d="M1059.3 1183C1059.3 1190.4 1059.6 1248.8 1059.3 1257C1059 1265.2 1056.9 1263.8 1056.2 1265.1C1055.5 1266.4 1052.6 1269.6 1052.2 1270.1" stroke-width="1.6"/>
<path d="M1054.2 1271.1C1053 1272 1045.3 1277.2 1042 1279.3C1038.8 1281.3 1025.8 1289 1021.8 1291.4C1017.7 1293.8 1004.3 1301.7 1001.5 1303.6C998.8 1305.4 995.2 1301.7 994.4 1309.6C993.7 1317.5 993.8 1372.2 993.8 1382.6C993.8 1392.9 994 1408.5 994.4 1412.9C994.9 1417.4 997.4 1424.1 998.5 1427.1C999.6 1430.2 1004.3 1439.3 1005.6 1443.3C1006.9 1447.4 1010.7 1462.4 1011.7 1467.6C1012.6 1472.9 1014.3 1490.3 1014.7 1496C1015.1 1501.7 1015.3 1519.9 1015.3 1524.3C1015.3 1528.7 1015.1 1538.4 1015.1 1539.9" stroke-width="1.6"/>
<path d="M1135.6 1192.2C1133.6 1194.9 1118 1217.1 1111.9 1225.6C1105.8 1234 1072 1280.6 1062.3 1293.4C1052.6 1306.3 1001 1372.3 995.5 1379.5" stroke-width="1.6"/>
<path d="M1110.9 1226.6C1110.2 1230.6 1108.2 1238.4 1106.9 1250.9C1105.5 1263.4 1104.8 1286.3 1102.8 1301.5C1100.8 1316.7 1096.7 1331.9 1094.7 1342C1092.7 1352.2 1091.8 1352.2 1090.7 1362.3C1089.5 1372.4 1088.6 1391 1087.6 1402.8C1086.6 1414.6 1085.6 1424.1 1084.6 1433.2C1083.6 1442.3 1082.9 1451.1 1081.5 1457.5C1080.2 1463.9 1078.7 1467.6 1076.5 1471.7C1074.3 1475.7 1071.7 1478.8 1068.4 1481.8C1065 1484.8 1059.9 1487.2 1056.2 1489.9C1052.5 1492.6 1048.5 1495.3 1046.1 1498C1043.7 1500.7 1042.7 1504.8 1042 1506.1" stroke-width="1.6"/>
<path d="M1077.5 1385.6 L1012.7 1451.4" stroke-width="1.6"/>
<path d="M1030.9 1495C1030.6 1494 1030.2 1490.1 1028.9 1488.9C1027.5 1487.7 1024.8 1487.2 1022.8 1487.9C1020.8 1488.6 1018.2 1490.6 1016.7 1492.9C1015.3 1495.3 1014.5 1500.5 1014.1 1502.1" stroke-width="1.6"/>
<path d="M1014.7 1516.2 L1020.8 1514.2" stroke-width="1.6"/>
<path d="M1024.8 1531.4 L1104.8 1486.3" stroke-width="1.6"/>
<path d="M1104.8 1460.5C1107.2 1459.6 1110.2 1458.6 1112.9 1459.1C1115.6 1459.6 1118.5 1461.5 1121 1463.6C1123.6 1465.7 1126.3 1468.6 1128.1 1471.7C1130 1474.7 1131.5 1478.4 1132.2 1481.8C1132.9 1485.2 1132.9 1489.1 1132.2 1491.9C1131.5 1494.8 1130 1497.4 1128.1 1499C1126.3 1500.6 1123.6 1501.7 1121 1501.7C1118.5 1501.7 1115.5 1500.5 1112.9 1499C1110.4 1497.6 1108 1495.5 1105.8 1492.9C1103.7 1490.4 1101.3 1487 1099.8 1483.8C1098.2 1480.6 1096.9 1476.9 1096.7 1473.7C1096.6 1470.5 1097.4 1466.8 1098.8 1464.6C1100.1 1462.4 1102.5 1461.4 1104.8 1460.5Z" stroke-width="1.6"/>
<path d="M1103.8 1471.7C1104.3 1470.2 1106.2 1469.5 1107.9 1469.6C1109.6 1469.8 1112.1 1471 1113.9 1472.7C1115.8 1474.4 1117.8 1477.2 1119 1479.8C1120.3 1482.3 1121.4 1485.7 1121.4 1487.9C1121.4 1490.1 1120.3 1492.3 1119 1492.9C1117.8 1493.6 1115.6 1492.9 1113.9 1491.9C1112.3 1490.9 1110.4 1489.1 1108.9 1486.9C1107.4 1484.7 1105.7 1481.3 1104.8 1478.8C1104 1476.2 1103.3 1473.2 1103.8 1471.7Z" stroke-width="1.6"/>
<path d="M1107.9 1462.2C1109.2 1462.2 1113.3 1461.2 1116 1462.2C1118.7 1463.1 1121.8 1465 1124.1 1467.6C1126.3 1470.2 1128.6 1476.1 1129.5 1477.8" stroke-width="1.6"/>
<path d="M1116.6 1502.1 L1116.6 1556.7" stroke-width="1.5"/>
<path d="M923.5 1312.7C922.5 1312.7 919.2 1313.8 918.5 1314.7C917.8 1315.6 916.7 1320.4 916.5 1321.8C916.2 1323.2 915.8 1327.7 916.1 1328.9C916.4 1330.1 914.4 1330.7 919.5 1333.9C924.6 1337.2 961.7 1358.3 967.1 1361.3C972.5 1364.2 972.2 1363.5 973.2 1363.3C974.1 1363.1 976.4 1360.6 976.8 1359.3C977.2 1357.9 977.4 1351.7 977.2 1350.1C977.1 1348.6 975.9 1345 975.2 1344.1C974.5 1343.2 974.8 1344 970.1 1341C965.5 1338.1 933.3 1317.5 928.6 1314.7C924 1311.9 924.6 1312.7 923.5 1312.7Z" stroke-width="1.6"/>
<path d="M923.5 1317.7 L951.9 1332.9" stroke-width="1.6"/>
<path d="M973.2 1352.2 L973.2 1360.3" stroke-width="1.6"/>
<path d="M919.5 1350.1C918.5 1350.1 915.5 1351.3 914.8 1352.2C914.2 1353.1 913.1 1357.8 912.8 1359.3C912.6 1360.7 912.1 1365.1 912.4 1366.3C912.7 1367.6 910.6 1368.1 916.1 1371.4C921.5 1374.8 961.4 1396.7 967.1 1399.8C972.8 1402.8 972.2 1402 973.2 1401.8C974.1 1401.6 976.4 1399.1 976.8 1397.7C977.2 1396.4 977.4 1390.1 977.2 1388.6C977.1 1387.1 975.9 1383.5 975.2 1382.6C974.5 1381.6 975.2 1382.6 970.1 1379.5C965.1 1376.5 930 1355.1 925 1352.2C919.9 1349.2 920.5 1350.1 919.5 1350.1Z" stroke-width="1.6"/>
<path d="M919.5 1355.2 L951.9 1372.4" stroke-width="1.6"/>
<path d="M973.2 1390.7 L973.2 1398.8" stroke-width="1.6"/>
<path d="M916.5 1387.6C915.4 1387.6 912.1 1388.7 911.4 1389.6C910.7 1390.6 909.6 1395.3 909.4 1396.7C909.1 1398.1 908.7 1402.6 909 1403.8C909.3 1405 906.6 1405.3 912.4 1408.9C918.2 1412.4 961 1436 967.1 1439.3C973.2 1442.5 972.2 1441.5 973.2 1441.3C974.1 1441.1 976.4 1438.6 976.8 1437.2C977.2 1435.9 977.4 1429.6 977.2 1428.1C977.1 1426.6 975.9 1423 975.2 1422C974.5 1421.1 975.5 1422.3 970.1 1419C964.8 1415.8 926.9 1392.8 921.5 1389.6C916.2 1386.5 917.5 1387.6 916.5 1387.6Z" stroke-width="1.6"/>
<path d="M916.5 1392.7 L951.9 1411.9" stroke-width="1.6"/>
<path d="M973.2 1430.2 L973.2 1438.3" stroke-width="1.6"/>
<path d="M906.3 1421C906.6 1420.8 908.6 1419.1 909.4 1419C910.2 1419 910.3 1418.4 914.4 1420.6C918.6 1422.9 945.4 1438.1 950.9 1441.3C956.4 1444.5 966.1 1450.2 969.1 1452.4C972.2 1454.7 979.4 1461 981.3 1463.6C983.2 1466.1 987.4 1474.5 988.4 1477.8C989.3 1481 990.7 1489.8 991 1496C991.3 1502.2 991.7 1535.5 991.8 1539.9" stroke-width="1.6"/>
<path d="M915.4 1425.1 L949.9 1444.3" stroke-width="1.6"/>
<path d="M910.4 1487.9C910.7 1485 912.9 1464 913.4 1459.5C913.9 1455.1 915 1445.3 915.4 1443.3C915.9 1441.3 916.9 1439.9 917.5 1439.7C918.1 1439.4 919.6 1439.9 921.5 1440.9C923.4 1441.9 934.8 1448.4 936.7 1449.8C938.6 1451.2 939.9 1453.1 940.4 1454.5C940.8 1455.8 941.3 1456.6 941.4 1463.6C941.4 1470.6 940.9 1514.6 940.8 1524.3C940.7 1534.1 940.7 1556.9 940.4 1560.8C940.1 1564.7 938.5 1563.3 937.7 1563.4C937 1563.5 935.1 1563 933.1 1561.8C931 1560.6 919.5 1552.7 917.5 1551.1C915.4 1549.5 913.4 1547.1 912.8 1545.6C912.3 1544.1 911.7 1542.7 912 1536.5C912.3 1530.3 914.7 1493.2 915.4 1483.8C916.2 1474.4 919.1 1446.5 919.5 1442.3" stroke-width="1.6"/>
<path d="M911.4 1550.7 L935.7 1565.9" stroke-width="1.6"/>
<path d="M956 1526.4C956 1520.5 956 1482.3 956.4 1475.7C956.7 1469.1 958 1470.6 959 1469.6C960 1468.7 963.3 1467.2 965.1 1467.6C966.8 1468.1 972.4 1471.8 974.2 1473.7C976 1475.6 979.2 1480.8 980.3 1483.8C981.3 1486.9 982.8 1495.3 983.3 1500C983.8 1504.8 984.2 1519.7 984.3 1524.3C984.4 1529 984.3 1538.1 984.3 1539.9" stroke-width="1.6"/>
<path d="M908.4 1599.3 L972.2 1562.8" stroke-width="1.6"/>
<path d="M1023.8 1237.7C1024.1 1236.7 1024.5 1232.9 1025.8 1231.7C1027.2 1230.4 1029.7 1229.5 1031.9 1230C1034.1 1230.5 1036.8 1232.2 1039 1234.7C1041.2 1237.2 1043.7 1241.4 1045.1 1244.8C1046.4 1248.2 1047.3 1252.6 1047.1 1254.9C1046.9 1257.3 1045.4 1258.3 1044.1 1259C1042.7 1259.7 1040.5 1259.3 1039 1259C1037.5 1258.7 1035.6 1257.3 1035 1257" stroke-width="1.6"/>
<path d="M1102.8 1213.4C1102.5 1212.4 1102.1 1208.6 1100.8 1207.3C1099.4 1206.1 1096.9 1205.4 1094.7 1205.9C1092.5 1206.4 1089.7 1208 1087.6 1210.4C1085.5 1212.8 1083.2 1217.3 1082.1 1220.5C1081.1 1223.7 1081 1227.2 1081.5 1229.6C1082.1 1232.1 1083.8 1234.4 1085.6 1235.1C1087.4 1235.8 1091.2 1233.9 1092.3 1233.7" stroke-width="1.6"/>
<path d="M1057.2 1281.3C1056.9 1280.3 1056.6 1276.5 1055.2 1275.2C1053.9 1273.9 1051.3 1273.1 1049.1 1273.6C1046.9 1274.1 1044.2 1275.8 1042 1278.2C1039.8 1280.7 1037.1 1285.2 1036 1288.4C1034.8 1291.6 1034.4 1295.1 1035 1297.5C1035.5 1299.8 1037.1 1301.9 1039 1302.5C1040.9 1303.2 1044.9 1301.4 1046.1 1301.1" stroke-width="1.6"/>
<path d="M933.4 1593.1 L969.9 1613.9" stroke-width="1.6"/>
<path d="M1014.7 1540C1014.7 1544.1 1014.9 1563.1 1014.9 1570.4C1014.8 1577.7 1014.6 1590.1 1014 1594.7C1013.5 1599.3 1012 1602.5 1010.4 1604.8C1008.8 1607.1 1005 1610.2 1002.3 1611.9C999.6 1613.7 993.1 1617.2 990.1 1618C987.2 1618.8 982.7 1618.5 980 1618C977.3 1617.4 971.2 1614.5 969.9 1613.9" stroke-width="1.6"/>
<path d="M984.3 1540C984.2 1545.9 984.2 1583.8 983.7 1590.6C983.2 1597.5 981.2 1597.4 980 1598.7C978.9 1600 975.4 1601.7 973.9 1601.8C972.5 1601.9 969.3 1600.8 967.9 1599.8C966.4 1598.7 963 1594.7 961.8 1592.7C960.6 1590.7 958.2 1583.7 957.7 1582.5" stroke-width="1.6"/>
<path d="M992.4 1540C992.4 1544.7 992.4 1573.4 992.6 1580.5C992.8 1587.6 993.5 1597 994.2 1600.8C994.9 1604.5 997.8 1611.5 998.2 1612.9" stroke-width="1.6"/>
<path d="M1000.5 1540C1000.5 1545.9 1000.8 1582.8 1000.7 1590.6C1000.5 1598.4 999.8 1604 999.3 1606.8C998.7 1609.7 996.6 1614 996.2 1614.9" stroke-width="1.6"/>
<path d="M971.9 1612.9C973.6 1613.3 978.7 1615.5 982 1615.3C985.4 1615.2 989.3 1613.5 992.2 1611.9C995 1610.3 998.1 1606.8 999.3 1605.8" stroke-width="1.6"/>
<path d="M863.5 1577.5C866.4 1577.4 870.8 1577 874.7 1578.5C878.6 1580 883 1583 886.8 1586.6C890.7 1590.1 894.8 1595 898 1599.8C901.2 1604.5 904.2 1610 906.1 1614.9C907.9 1619.8 908.8 1624.7 909.1 1629.1C909.5 1633.5 909.1 1637.7 908.1 1641.3C907.1 1644.8 905.2 1648.2 903 1650.4C900.9 1652.6 898 1653.8 894.9 1654.4C891.9 1655.1 888.4 1655.5 884.8 1654.4C881.3 1653.4 877.4 1651.2 873.7 1648.4C870 1645.5 865.9 1641.4 862.5 1637.2C859.2 1633 855.9 1627.9 853.4 1623C851 1618.2 849 1612.6 848 1607.9C846.9 1603.1 846.8 1598.7 847.3 1594.7C847.9 1590.6 849.7 1586.2 851.4 1583.5C853.1 1580.9 855.4 1579.9 857.5 1578.9C859.5 1577.9 860.7 1577.5 863.5 1577.5Z" stroke-width="1.6"/>
<path d="M860.5 1581.9C861.9 1582.1 865.9 1582.2 868.6 1582.9C871.3 1583.6 875.4 1585.6 876.7 1586.2" stroke-width="1.6"/>
<path d="M903 1635.2C903 1636.5 903.6 1640.9 903 1643.3C902.5 1645.7 900.5 1648.4 900 1649.4" stroke-width="1.6"/>
<path d="M865.6 1604.8C866.5 1603.6 869.5 1603.3 871.7 1603.8C873.8 1604.3 876.5 1605.8 878.7 1607.9C880.9 1609.9 883.3 1613.1 884.8 1616C886.3 1618.8 887.7 1622.5 887.9 1625.1C888 1627.6 887 1630 885.8 1631.1C884.6 1632.3 882.6 1632.7 880.8 1632.2C878.9 1631.7 876.5 1630.1 874.7 1628.1C872.8 1626.1 871 1622.9 869.6 1620C868.2 1617.1 866.9 1613.4 866.2 1610.9C865.5 1608.4 864.7 1606 865.6 1604.8Z" stroke-width="1.6"/>
<path d="M871.7 1606.8C872 1608.4 872.5 1613.1 873.7 1616C874.9 1618.8 876.9 1621.9 878.7 1624.1C880.6 1626.3 883.8 1628.3 884.8 1629.1" stroke-width="1.6"/>
<path d="M884.8 1655 L884.8 1711.2" stroke-width="1.5"/>
<path d="M961.8 1616.6 L961.8 1723.3" stroke-width="1.6"/>
<path d="M973.9 1691.5C974.6 1691.6 979.7 1691.3 982 1692.3C984.4 1693.4 999.1 1702.2 1002.3 1704.1C1005.5 1705.9 1018.8 1712.9 1020.5 1714.2C1022.2 1715.5 1022.8 1717.5 1023 1719.3C1023.2 1721 1023.2 1733.8 1023 1735.5C1022.8 1737.2 1024.6 1737 1020.5 1739.5C1016.4 1742 978.3 1763.5 973.9 1765.8C969.6 1768.2 968.9 1767.3 967.9 1767.3C966.9 1767.3 965.5 1767.9 961.8 1765.8C958.1 1763.8 926.7 1744.8 923.3 1742.6C919.9 1740.3 921.1 1740.2 920.9 1738.5C920.7 1736.8 920.6 1724 920.9 1722.3C921.2 1720.6 921 1720.4 924.3 1718.2C927.6 1716.1 957.7 1698.8 960.8 1697" stroke-width="1.6"/>
<path d="M925.3 1727.4 L960.8 1747.6" stroke-width="1.6"/>
<path d="M976 1747.6 L1019.5 1723.3" stroke-width="1.6"/>
<path d="M949.6 1729.4C949.5 1728.4 947.8 1724.9 948.6 1723.3C949.5 1721.7 951.8 1720.5 954.7 1719.9C957.6 1719.2 962.6 1718.7 965.8 1719.3C969 1719.8 972.4 1721.8 973.9 1723.3C975.5 1724.8 975.6 1726.9 975 1728.4C974.3 1729.9 972.4 1731.6 969.9 1732.4C967.4 1733.3 962.8 1733.6 959.8 1733.4C956.7 1733.3 953 1731.7 951.7 1731.4" stroke-width="1.6"/>
<path d="M961.8 1770.9 L961.8 1791.2" stroke-width="1.6"/>
<path d="M955.3 1802.3C955.4 1801.8 954.6 1800.1 955.7 1799.3C956.8 1798.4 959.8 1797.2 961.8 1797.2C963.8 1797.2 966.7 1798.4 967.9 1799.3C969 1800.1 968.7 1801.8 968.9 1802.3" stroke-width="1.6"/>
<path d="M955.3 1802.3 L955.3 1831.7" stroke-width="1.6"/>
<path d="M968.9 1802.3 L968.9 1831.7" stroke-width="1.6"/>
<path d="M955.3 1805.3C956.4 1805.7 959.5 1807.8 961.8 1807.8C964 1807.8 967.7 1805.7 968.9 1805.3" stroke-width="1.6"/>
<path d="M955.3 1810.4C956.4 1810.8 959.5 1812.8 961.8 1812.8C964 1812.8 967.7 1810.8 968.9 1810.4" stroke-width="1.6"/>
<path d="M955.3 1815.5C956.4 1815.9 959.5 1817.9 961.8 1817.9C964 1817.9 967.7 1815.9 968.9 1815.5" stroke-width="1.6"/>
<path d="M955.3 1820.5C956.4 1820.9 959.5 1823 961.8 1823C964 1823 967.7 1820.9 968.9 1820.5" stroke-width="1.6"/>
<path d="M955.3 1825.6C956.4 1826 959.5 1828 961.8 1828C964 1828 967.7 1826 968.9 1825.6" stroke-width="1.6"/>
<path d="M949.6 1831.7C950 1831.2 950.7 1829.3 951.7 1828.6C952.6 1828 954.7 1827.8 955.3 1827.6" stroke-width="1.6"/>
<path d="M968.9 1828C969.4 1828.3 971.1 1828.9 971.9 1829.6C972.7 1830.4 973.3 1832.2 973.5 1832.7" stroke-width="1.6"/>
<path d="M949.6 1831.7 L949.6 1841.8 L952.7 1844.8 L961.8 1846.3 L970.9 1844.8 L973.5 1841.8 L973.5 1832.7" stroke-width="1.6"/>
<path d="M949.6 1832.7C950.5 1833.2 952.7 1835.1 954.7 1835.7C956.7 1836.4 959.3 1836.8 961.8 1836.7C964.3 1836.7 967.9 1836 969.9 1835.3C971.8 1834.6 972.9 1833.1 973.5 1832.7" stroke-width="1.6"/>
<path d="M961.8 1836.7 L961.8 1846.3" stroke-width="1.6"/>
<path d="M968.9 1819.1 L1008.4 1819.1" stroke-width="1.6"/>
<path d="M1039.8 1819.1 L1079.3 1819.1 L1079.3 1728.4 L1023.6 1728.4" stroke-width="1.6"/>
<path d="M1079.3 1771.9 L1106.6 1771.9" stroke-width="1.6"/>
<path d="M636.3 1729.6C638.2 1726.9 640.7 1724.7 643.4 1723.2C646.1 1721.6 649.8 1720.8 652.5 1720.5C655.2 1720.2 657.3 1720.3 659.6 1721.5C662 1722.7 664.5 1725.1 666.7 1727.6C668.9 1730.1 671.2 1733.5 672.8 1736.7C674.4 1739.9 675.7 1743.6 676.4 1746.9C677.2 1750.1 677.6 1753.4 677.4 1756C677.3 1758.5 676.9 1760.3 675.8 1762C674.7 1763.8 673.6 1765 670.8 1766.5C667.9 1768 662 1770.4 658.6 1771.2C655.2 1771.9 653.2 1771.8 650.5 1771.2C647.8 1770.5 644.8 1769 642.4 1767.1C640 1765.2 637.6 1762.9 635.9 1760C634.2 1757.1 632.9 1753.3 632.3 1749.9C631.7 1746.5 631.6 1743.1 632.3 1739.8C633 1736.4 634.5 1732.4 636.3 1729.6Z" stroke-width="1.6"/>
<path d="M640.4 1726.6C641.7 1726.4 645.8 1724.7 648.5 1725.6C651.2 1726.4 654.2 1729 656.6 1731.7C659 1734.4 661.1 1738.4 662.7 1741.8C664.2 1745.2 665.2 1748.5 665.7 1751.9C666.2 1755.3 666.2 1759.3 665.7 1762C665.2 1764.7 663.8 1766.6 662.7 1768.1C661.5 1769.6 659.3 1770.7 658.6 1771.2" stroke-width="1.6"/>
<path d="M651.5 1728.6 L654.6 1734.7" stroke-width="1.6"/>
<path d="M662.3 1726 L707.2 1700.3 L818.6 1635.4" stroke-width="1.6"/>
<path d="M667.7 1756 L676.8 1750.9 L720.4 1723.6 L834.8 1658.7" stroke-width="1.6"/>
<path d="M818.6 1635.4C819.3 1635.3 821.2 1634.5 822.7 1634.8C824.2 1635.2 826.1 1635.9 827.7 1637.5C829.4 1639.1 831.6 1642 832.8 1644.6C834.1 1647.1 834.9 1650.3 835.2 1652.7C835.6 1655 834.9 1657.7 834.8 1658.7" stroke-width="1.6"/>
<path d="M707.2 1700.3C708.2 1700.8 711.4 1701.4 713.3 1703.3C715.2 1705.2 717.2 1708 718.4 1711.4C719.5 1714.8 720.1 1721.5 720.4 1723.6" stroke-width="1.6"/>
<path d="M712.9 1697C713.9 1697.5 717.1 1698.1 719 1700C720.8 1701.8 722.9 1704.7 724.1 1708.1C725.2 1711.5 725.7 1718.2 726.1 1720.2" stroke-width="1.6"/>
<path d="M718.6 1693.6C719.6 1694.2 722.8 1694.8 724.7 1696.7C726.5 1698.5 728.6 1701.4 729.7 1704.8C730.9 1708.2 731.4 1714.9 731.8 1716.9" stroke-width="1.6"/>
<path d="M724.3 1690.3C725.3 1690.8 728.5 1691.5 730.4 1693.4C732.2 1695.2 734.2 1698.1 735.4 1701.5C736.6 1704.9 737.1 1711.6 737.5 1713.6" stroke-width="1.6"/>
<path d="M730 1687C731 1687.5 734.2 1688.2 736.1 1690.1C737.9 1691.9 739.9 1694.8 741.1 1698.2C742.3 1701.5 742.8 1708.3 743.1 1710.3" stroke-width="1.6"/>
<path d="M735.7 1683.7C736.7 1684.2 739.9 1684.9 741.7 1686.8C743.6 1688.6 745.6 1691.5 746.8 1694.9C748 1698.2 748.5 1705 748.8 1707" stroke-width="1.6"/>
<path d="M741.3 1680.4C742.4 1680.9 745.6 1681.6 747.4 1683.4C749.3 1685.3 751.3 1688.2 752.5 1691.5C753.7 1694.9 754.2 1701.7 754.5 1703.7" stroke-width="1.6"/>
<path d="M747 1677.1C748 1677.6 751.3 1678.3 753.1 1680.1C755 1682 757 1684.9 758.2 1688.2C759.4 1691.6 759.9 1698.4 760.2 1700.4" stroke-width="1.6"/>
<path d="M752.7 1673.8C753.7 1674.3 756.9 1675 758.8 1676.8C760.7 1678.7 762.7 1681.6 763.9 1684.9C765 1688.3 765.6 1695.1 765.9 1697.1" stroke-width="1.6"/>
<path d="M758.4 1670.5C759.4 1671 762.6 1671.7 764.5 1673.5C766.3 1675.4 768.4 1678.2 769.6 1681.6C770.7 1685 771.2 1691.7 771.6 1693.8" stroke-width="1.6"/>
<path d="M764.1 1667.2C765.1 1667.7 768.3 1668.4 770.2 1670.2C772 1672.1 774.1 1674.9 775.2 1678.3C776.4 1681.7 776.9 1688.4 777.3 1690.5" stroke-width="1.6"/>
<path d="M769.8 1663.9C770.8 1664.4 774 1665 775.9 1666.9C777.7 1668.8 779.7 1671.6 780.9 1675C782.1 1678.4 782.6 1685.1 783 1687.2" stroke-width="1.6"/>
<path d="M775.5 1660.6C776.5 1661.1 779.7 1661.7 781.6 1663.6C783.4 1665.4 785.4 1668.3 786.6 1671.7C787.8 1675.1 788.3 1681.8 788.6 1683.8" stroke-width="1.6"/>
<path d="M781.2 1657.2C782.2 1657.8 785.4 1658.4 787.2 1660.3C789.1 1662.1 791.1 1665 792.3 1668.4C793.5 1671.8 794 1678.5 794.3 1680.5" stroke-width="1.6"/>
<path d="M786.8 1653.9C787.9 1654.4 791.1 1655.1 792.9 1657C794.8 1658.8 796.8 1661.7 798 1665.1C799.2 1668.5 799.7 1675.2 800 1677.2" stroke-width="1.6"/>
<path d="M792.5 1650.6C793.5 1651.1 796.8 1651.8 798.6 1653.7C800.5 1655.5 802.5 1658.4 803.7 1661.8C804.9 1665.1 805.4 1671.9 805.7 1673.9" stroke-width="1.6"/>
<path d="M798.2 1647.3C799.2 1647.8 802.4 1648.5 804.3 1650.4C806.2 1652.2 808.2 1655.1 809.4 1658.5C810.5 1661.8 811.1 1668.6 811.4 1670.6" stroke-width="1.6"/>
<path d="M803.9 1644C804.9 1644.5 808.1 1645.2 810 1647C811.8 1648.9 813.9 1651.8 815.1 1655.1C816.2 1658.5 816.7 1665.3 817.1 1667.3" stroke-width="1.6"/>
<path d="M809.6 1640.7C810.6 1641.2 813.8 1641.9 815.7 1643.7C817.5 1645.6 819.6 1648.5 820.7 1651.8C821.9 1655.2 822.4 1662 822.8 1664" stroke-width="1.6"/>
<path d="M815.3 1637.4C816.3 1637.9 819.5 1638.6 821.4 1640.4C823.2 1642.3 825.2 1645.2 826.4 1648.5C827.6 1651.9 828.1 1658.7 828.5 1660.7" stroke-width="1.6"/>
<path d="M732.9 1713.4 L732.9 1774.2" stroke-width="1.5"/>
<path d="M1168.8 1475.1 L1168.8 1532.3" stroke-width="1.5"/>
<path d="M1217.8 1449.1 L1217.8 1506.3" stroke-width="1.5"/>
<path d="M1201.8 1403C1204.2 1401.6 1219.3 1392.1 1222.6 1390.4C1225.9 1388.7 1228.1 1388.3 1230 1388.2C1231.9 1388 1236.9 1388.2 1238.9 1388.9C1241 1389.6 1246 1392.6 1247.9 1394.1C1249.7 1395.7 1253.4 1400.2 1254.5 1402.3C1255.7 1404.4 1257.2 1409.7 1257.5 1411.9C1257.9 1414.2 1257.9 1419.5 1257.5 1421.6C1257.1 1423.7 1255.1 1428.2 1253.8 1429.8C1252.5 1431.3 1249.7 1433.1 1246.4 1435C1243 1436.9 1227.3 1444.8 1224.8 1446.1" stroke-width="1.6"/>
<path d="M1201.8 1403C1201.1 1403.3 1198.8 1403.4 1197.3 1404.5C1195.9 1405.6 1194.2 1407.5 1193.2 1409.7C1192.2 1411.9 1191.3 1414.7 1191.4 1417.9C1191.5 1421.1 1192.3 1425.4 1193.6 1429C1195 1432.6 1197.2 1436.6 1199.6 1439.4C1201.9 1442.3 1204.9 1444.6 1207.7 1446.1C1210.6 1447.6 1214.2 1448.5 1216.7 1448.6C1219.1 1448.8 1220.9 1448 1222.6 1446.8C1224.3 1445.7 1226.2 1443.4 1227.1 1441.6C1227.9 1439.9 1227.7 1437.3 1227.8 1436.4" stroke-width="1.6"/>
<path d="M1200.3 1402.6C1201.3 1402.9 1204 1403.1 1206.3 1404.5C1208.5 1405.9 1211.5 1408.5 1213.7 1411.2C1215.9 1413.9 1218.1 1417.6 1219.6 1420.8C1221.1 1424.1 1222 1427.4 1222.6 1430.5C1223.2 1433.6 1223.6 1436.9 1223.3 1439.4C1223.1 1441.9 1221.5 1444.4 1221.1 1445.4" stroke-width="1.6"/>
<path d="M1197.3 1420.1C1197.6 1419.1 1197.8 1415.7 1198.8 1414.2C1199.8 1412.7 1201.6 1411.4 1203.3 1411.2C1205 1410.9 1207.3 1411.4 1209.2 1412.7C1211.2 1413.9 1213.4 1416.1 1215.2 1418.6C1216.9 1421.1 1218.7 1424.7 1219.6 1427.5C1220.6 1430.4 1220.9 1433.6 1220.8 1435.7C1220.7 1437.8 1220 1439.2 1218.9 1440.2C1217.8 1441.1 1216 1441.4 1214.4 1441.2C1212.8 1441 1210.1 1439.1 1209.2 1438.7" stroke-width="1.6"/>
<path d="M1145.4 1437.2C1147.8 1435 1160.4 1428.1 1163.2 1426.8C1166 1425.5 1167.6 1425.9 1169.1 1426.3C1170.7 1426.8 1174.8 1429 1176.6 1430.5C1178.3 1432 1182.8 1437.3 1184 1439.4C1185.2 1441.5 1186.6 1446.6 1187 1448.3C1187.3 1450.1 1187.3 1452.4 1187.2 1454.3C1187.2 1456.2 1188.3 1462.3 1186.2 1464.7C1184.1 1467 1171.8 1473.2 1169.1 1474.3C1166.4 1475.5 1164.7 1474.8 1163.2 1474.3C1161.6 1473.9 1157.5 1471.9 1155.8 1470.6C1154 1469.3 1149.7 1465.1 1148.3 1463.2C1146.9 1461.3 1144.6 1456.4 1143.9 1454.3C1143.2 1452.2 1142.2 1447.4 1142.4 1445.4C1142.6 1443.4 1142.9 1439.4 1145.4 1437.2Z" stroke-width="1.6"/>
<path d="M1145.4 1437.2C1146.1 1436.8 1148.1 1435.2 1149.8 1435C1151.5 1434.7 1153.5 1434.7 1155.8 1435.7C1158 1436.7 1161 1438.6 1163.2 1440.9C1165.4 1443.3 1167.5 1446.6 1169.1 1449.8C1170.7 1453 1172.2 1457 1172.8 1460.2C1173.5 1463.4 1173.3 1466.8 1172.8 1469.1C1172.3 1471.4 1170.4 1473.1 1169.9 1473.9" stroke-width="1.6"/>
<path d="M1161 1437.2 L1176.6 1430.5" stroke-width="1.6"/>
<path d="M1172.8 1461 L1187 1454.3" stroke-width="1.6"/>
<path d="M1149.1 1446.1C1149.6 1444.2 1151.3 1443.4 1152.8 1443.1C1154.3 1442.9 1156.3 1443.4 1158 1444.6C1159.7 1445.9 1161.8 1448.3 1163.2 1450.6C1164.5 1452.8 1165.7 1455.8 1166.2 1458C1166.7 1460.2 1166.7 1462.4 1166.2 1463.9C1165.7 1465.4 1164.4 1466.5 1163.2 1466.9C1161.9 1467.3 1160.3 1467 1158.7 1466.2C1157.1 1465.3 1155 1463.7 1153.5 1461.7C1152 1459.7 1150.6 1456.9 1149.8 1454.3C1149.1 1451.7 1148.6 1448 1149.1 1446.1Z" stroke-width="1.6"/>
<path d="M1154.3 1444.6C1154.5 1445.7 1154.8 1448.8 1155.8 1451.3C1156.7 1453.8 1158.6 1457.2 1160.2 1459.5C1161.8 1461.7 1164.5 1463.8 1165.4 1464.7" stroke-width="1.6"/>
<path d="M1160.2 1446.8C1160.7 1448.1 1162.4 1451.8 1163.2 1454.3C1163.9 1456.7 1164.4 1460.5 1164.7 1461.7" stroke-width="1.6"/>
<path d="M584.6 994.8C582.8 995.3 580.1 995.7 577.8 997.3C575.6 998.8 573.1 1001.3 571.1 1004C569 1006.7 567 1010.2 565.7 1013.5C564.4 1016.7 563.5 1020.4 563.2 1023.6C563 1026.7 563.3 1030 564 1032.4C564.8 1034.7 566.1 1036.5 567.7 1037.8C569.3 1039.1 571.6 1040.1 573.8 1040.2C575.9 1040.3 578.3 1039.6 580.5 1038.5C582.8 1037.3 585.1 1035.3 587.3 1033.1C589.4 1030.8 591.5 1028 593.3 1024.9C595.1 1021.9 596.9 1018.1 598.1 1014.8C599.2 1011.6 600 1008.1 600.1 1005.4C600.2 1002.7 599.8 1000.3 598.7 998.6C597.7 996.9 595.7 996 594 995.2C592.3 994.5 590.2 994.4 588.6 994.3C587 994.2 586.4 994.3 584.6 994.8Z" stroke-width="1.6"/>
<path d="M566.3 1025.6C566.4 1026.9 566.3 1031 567 1033.1C567.7 1035.1 568.9 1036.6 570.4 1037.8C571.8 1039 574.9 1039.8 575.8 1040.2" stroke-width="1.6"/>
<path d="M587.3 1006.7C585.7 1007.1 583.6 1007.3 581.9 1008.7C580.2 1010.2 578.3 1013 577.1 1015.5C576 1018 575 1021.3 574.8 1023.6C574.7 1025.8 575.2 1027.9 576.2 1029C577.1 1030.1 578.9 1030.5 580.5 1029.9C582.1 1029.4 584.2 1027.7 585.9 1025.6C587.6 1023.6 589.5 1020.1 590.6 1017.5C591.8 1014.9 592.8 1011.9 592.9 1010.1C593 1008.3 592.3 1007.3 591.3 1006.7C590.4 1006.2 588.8 1006.4 587.3 1006.7Z" stroke-width="1.6"/>
<path d="M590 1008.7C590.3 1009.5 592 1011.6 592 1013.5C592 1015.4 591 1018.2 590 1020.2C589 1022.2 587.6 1024.3 585.9 1025.6C584.2 1027 580.9 1027.9 579.8 1028.3" stroke-width="1.6"/>
<path d="M619.7 1027.7C618.9 1027.7 616.5 1027 614.9 1027.7C613.4 1028.3 611.5 1030 610.2 1031.7C609 1033.4 608 1035.6 607.5 1037.8C607 1039.9 606.9 1042.8 607.3 1044.5C607.6 1046.2 609.2 1047.3 609.5 1047.9" stroke-width="1.6"/>
<path d="M619.7 1027.7 L648 1043.2" stroke-width="1.6"/>
<path d="M609.5 1047.9 L636.6 1064.8" stroke-width="1.6"/>
<path d="M621 1029C620.2 1029.6 617.5 1030.7 616.3 1032.4C615.1 1034.1 614 1036.8 613.6 1039.1C613.1 1041.5 613.4 1044.6 613.6 1046.6C613.8 1048.5 614.7 1049.9 614.9 1050.6" stroke-width="1.6"/>
<path d="M626.2 1031.8C625.4 1032.4 622.7 1033.5 621.4 1035.2C620.2 1036.9 619.2 1039.6 618.7 1042C618.3 1044.3 618.5 1047.5 618.7 1049.4C619 1051.3 619.9 1052.8 620.1 1053.4" stroke-width="1.6"/>
<path d="M631.3 1034.7C630.5 1035.2 627.8 1036.4 626.6 1038C625.3 1039.7 624.3 1042.4 623.9 1044.8C623.4 1047.2 623.6 1050.3 623.9 1052.2C624.1 1054.1 625 1055.6 625.2 1056.3" stroke-width="1.6"/>
<path d="M636.4 1037.5C635.6 1038.1 632.9 1039.2 631.7 1040.9C630.5 1042.6 629.4 1045.3 629 1047.6C628.5 1050 628.8 1053.2 629 1055.1C629.2 1057 630.1 1058.4 630.3 1059.1" stroke-width="1.6"/>
<path d="M641.6 1040.3C640.8 1040.9 638.1 1042 636.8 1043.7C635.6 1045.4 634.6 1048.1 634.1 1050.5C633.7 1052.8 633.9 1056 634.1 1057.9C634.4 1059.8 635.3 1061.3 635.5 1062" stroke-width="1.6"/>
<path d="M648 1043.2C647.1 1043.6 644.2 1044.3 642.6 1045.9C641.1 1047.5 639.6 1050.2 638.6 1052.6C637.6 1055.1 636.8 1058.6 636.6 1060.7C636.3 1062.9 636.9 1064.7 637 1065.5" stroke-width="1.6"/>
<path d="M648 1043.2 L652.1 1042.5 L667.6 1052" stroke-width="1.6"/>
<path d="M637 1065.5 L654.8 1076.3" stroke-width="1.6"/>
<path d="M673 1050.6C672 1050.9 669 1051.2 666.9 1052.6C664.9 1054.1 662.7 1056.9 660.9 1059.4C659.1 1061.9 657.2 1064.8 656.1 1067.5C655.1 1070.2 654.6 1073.2 654.5 1075.6C654.4 1078 654.9 1080.3 655.5 1081.7C656.1 1083 657.7 1083.4 658.2 1083.7" stroke-width="1.6"/>
<path d="M673 1050.6 L676.4 1052 L707.5 1069.5" stroke-width="1.6"/>
<path d="M658.2 1083.7 L688.5 1101.2" stroke-width="1.6"/>
<path d="M707.5 1069.5C708 1070.1 710 1071.4 710.8 1072.9C711.6 1074.4 712.2 1076 712.2 1078.3C712.2 1080.5 711.7 1083.7 710.8 1086.4C709.9 1089.1 708.5 1092.1 706.8 1094.5C705.1 1096.9 702.6 1099.1 700.7 1100.6C698.8 1102 697 1102.9 695.3 1103.3C693.6 1103.6 691.7 1102.9 690.6 1102.6C689.4 1102.3 688.9 1101.5 688.5 1101.2" stroke-width="1.6"/>
<path d="M699.4 1072.9C699.7 1072.6 700 1071.3 701.4 1070.9C702.7 1070.4 706.4 1070.3 707.5 1070.2" stroke-width="1.6"/>
<path d="M686.5 1093.1 L687.9 1099.9" stroke-width="1.6"/>
<path d="M672.3 995.2 L672.3 1050.6" stroke-width="1.5"/>
<path d="M156 955.2C154.5 955.4 152.8 955.8 151.3 956.6C149.8 957.4 148.3 958.7 147 960.1C145.8 961.6 144.6 963.4 143.7 965.3C142.8 967.2 142 969.5 141.6 971.5C141.2 973.4 141.1 975.6 141.3 977.1C141.5 978.7 141.9 979.6 142.8 980.9C143.6 982.3 144.7 983.8 146.5 985.2C148.4 986.6 151.5 988.2 153.6 989.4C155.8 990.7 157.7 991.9 159.3 992.7C160.9 993.5 161.8 994 163.1 994.1C164.3 994.3 165.4 994.5 166.9 993.9C168.3 993.4 169.9 992.3 171.6 990.8C173.2 989.4 175.3 987.3 176.8 985.2C178.3 983 179.7 980.2 180.6 978.1C181.5 976 182 974.1 182.2 972.4C182.5 970.7 182.3 969 182 967.7C181.6 966.3 181 965.3 180.1 964.4C179.1 963.4 177.7 962.8 176.3 962C174.9 961.2 173.1 960.6 171.6 959.7C170.1 958.7 168.5 957.3 167.3 956.6C166.2 955.9 165.7 955.7 164.5 955.4C163.3 955.1 161.7 955.1 160.2 955C158.8 955 157.5 954.9 156 955.2Z" stroke-width="1.6"/>
<path d="M156.9 956.6C156.2 957.2 154 959.1 152.7 960.6C151.3 962.1 150 963.7 148.9 965.3C147.8 967 146.9 968.9 146.3 970.5C145.7 972.2 145.4 973.8 145.4 975.2C145.3 976.7 145.6 978.1 145.8 979C146.1 980 146.8 980.6 147 980.9" stroke-width="1.6"/>
<path d="M158.4 958.2 L166.4 965.3" stroke-width="1.6"/>
<path d="M166.4 965.3C166.9 965.2 168.2 965.3 169.2 964.8C170.2 964.4 172 962.9 172.5 962.5" stroke-width="1.6"/>
<path d="M146.8 979.3 L156.5 985.2" stroke-width="1.6"/>
<path d="M157.9 981.4C157.8 982.3 157.3 984.8 157.4 986.6C157.6 988.4 158.6 991.3 158.8 992.3" stroke-width="1.6"/>
<path d="M176.6 975.2C176.4 974.7 175.8 972.8 175.4 971.9C174.9 971.1 174.7 970.5 174 970.3C173.2 970 171.7 970.1 170.6 970.5C169.5 971 168.4 971.9 167.3 972.9C166.3 973.9 165.2 975.3 164.5 976.7C163.8 978 163.3 979.6 163.1 980.9C162.9 982.3 163 983.7 163.3 984.7C163.6 985.7 164.2 986.4 165 986.8C165.7 987.2 166.9 987.2 167.8 987.1C168.8 986.9 170.2 986.3 170.6 986.1" stroke-width="1.6"/>
<path d="M164 975.7C164.7 974.5 166.5 973.6 167.8 972.9C169.1 972.2 171.3 971.1 171.6 971.5C171.9 971.9 170.5 973.8 169.7 975.2C168.9 976.7 167.7 978.6 166.9 980C166 981.4 165 983.8 164.5 983.8C164 983.8 163.9 981.3 163.8 980C163.7 978.6 163.4 976.9 164 975.7Z" stroke-width="1" fill="#000"/>
<path d="M171.6 971.5C171.5 972.2 171.6 974.1 171.1 975.7C170.6 977.3 169.7 979.3 168.8 980.9C167.8 982.5 166 984.5 165.4 985.2" stroke-width="1.6"/>
<path d="M159.8 993.9 L159.8 1050" stroke-width="1.5"/>
<path d="M212.1 980.5C210.6 980.6 208.3 980.1 206.2 981.2C204.1 982.4 201.6 984.8 199.5 987.2C197.4 989.5 195.1 992.4 193.5 995.4C192 998.3 190.7 1002 190.1 1005C189.5 1008 189.4 1010.8 189.8 1013.2C190.3 1015.5 191.3 1017.7 192.8 1019.1C194.3 1020.6 196.6 1021.7 198.7 1021.8C200.8 1021.9 203.2 1021.2 205.4 1019.9C207.6 1018.6 210 1016.4 212.1 1013.9C214.2 1011.5 216.4 1008.1 218 1005C219.6 1001.9 221 998.3 221.8 995.4C222.5 992.4 222.9 989.4 222.5 987.2C222.1 985 220.8 983.1 219.5 982C218.3 980.9 216.3 980.8 215.1 980.5C213.8 980.3 213.6 980.4 212.1 980.5Z" stroke-width="1.6"/>
<path d="M191 1008.7C191.1 1010 190.6 1014.1 191.3 1016.2C192 1018.2 193.5 1019.9 195 1020.9C196.5 1021.9 199.3 1022.1 200.2 1022.4" stroke-width="1.6"/>
<path d="M212.8 992.4C211.7 992.3 210 991.5 208.4 992.4C206.8 993.3 204.5 995.5 203.2 997.6C201.8 999.7 200.7 1002.9 200.2 1005C199.7 1007.1 199.7 1009.1 200.2 1010.2C200.7 1011.4 201.8 1012.1 203.2 1012C204.5 1011.9 206.7 1011 208.4 1009.5C210.1 1007.9 212.3 1005 213.6 1002.8C214.9 1000.6 216 997.8 216.3 996.1C216.5 994.4 215.6 993.3 215.1 992.7C214.5 992.1 214 992.4 212.8 992.4Z" stroke-width="1.6"/>
<path d="M213.6 993.9C213.8 994.7 215.3 997.1 215.1 999.1C214.8 1001.1 213.5 1003.8 212.1 1005.8C210.7 1007.7 208.5 1010 206.9 1011C205.3 1011.9 203.2 1011.3 202.4 1011.4" stroke-width="1.6"/>
<path d="M203.2 1022.4 L203.2 1078.2" stroke-width="1.5"/>
<path d="M224.7 1011.4 L274.5 1040.2 L319.8 947.8" stroke-width="1.6"/>
<path d="M181 1488.1 L185.1 1488.5 L186.7 1490.5 L186.7 1516.1 L147 1538.8 L147 1545.6 L143.8 1545.6 L124.3 1535.9 L123.9 1533.5 L142.1 1504.3 L146.6 1505.5 L146.6 1510Z" stroke-width="1" fill="#000"/>
<path d="M147.8 1511.4 L182.8 1490.9" stroke-width="0.9" stroke="#fff"/>
<path d="M126.9 1533.1 L144.2 1507.1" stroke-width="0.9" stroke="#fff"/>
</g>
<g>
<text x="66" y="135.5" font-size="50" text-anchor="start" font-weight="bold" fill="#000" textLength="152" lengthAdjust="spacingAndGlyphs">FIG.35</text>
<text x="68" y="1996.5" font-size="25.5" text-anchor="start" font-weight="normal" fill="#000" textLength="371" lengthAdjust="spacingAndGlyphs">DF40A 50A 60A E03 012_035</text>
<text x="67.5" y="2035.5" font-size="25.5" text-anchor="start" font-weight="normal" fill="#000" textLength="232" lengthAdjust="spacingAndGlyphs">CLAMP BRACKET</text>
<text x="893.5" y="2022" font-size="59.5" text-anchor="start" font-weight="normal" fill="#333" >crowleymarine.com</text>
<text x="417.5" y="424" font-size="26.5" text-anchor="middle" font-weight="normal" fill="#000" >1</text>
<text x="584.2" y="932.9" font-size="26.5" text-anchor="middle" font-weight="normal" fill="#000" >5</text>
<text x="130.5" y="506.4" font-size="26.5" text-anchor="middle" font-weight="normal" fill="#000" >11</text>
<text x="256.1" y="440.3" font-size="26.5" text-anchor="middle" font-weight="normal" fill="#000" >16</text>
<text x="859.2" y="475.4" font-size="26.5" text-anchor="middle" font-weight="normal" fill="#000" >3</text>
<text x="949.9" y="763.1" font-size="26.5" text-anchor="middle" font-weight="normal" fill="#000" >2</text>
<text x="1116.6" y="1580" font-size="26.5" text-anchor="middle" font-weight="normal" fill="#000" >13</text>
<text x="884.8" y="1734.5" font-size="26.5" text-anchor="middle" font-weight="normal" fill="#000" >12</text>
<text x="1025.6" y="1828" font-size="26.5" text-anchor="middle" font-weight="normal" fill="#000" >8</text>
<text x="1112.7" y="1781" font-size="26.5" text-anchor="middle" font-weight="normal" fill="#000" >7</text>
<text x="732.9" y="1800.5" font-size="26.5" text-anchor="middle" font-weight="normal" fill="#000" >9</text>
<text x="1168.4" y="1553.8" font-size="26.5" text-anchor="middle" font-weight="normal" fill="#000" >10</text>
<text x="1217.4" y="1527.8" font-size="26.5" text-anchor="middle" font-weight="normal" fill="#000" >6</text>
<text x="672.1" y="989.8" font-size="26.5" text-anchor="middle" font-weight="normal" fill="#000" >4</text>
<text x="160.1" y="1073.8" font-size="26.5" text-anchor="middle" font-weight="normal" fill="#000" >14</text>
<text x="202.4" y="1104.1" font-size="26.5" text-anchor="middle" font-weight="normal" fill="#000" >15</text>
<text x="0" y="0" font-size="26" text-anchor="start" font-weight="bold" fill="#fff" transform="matrix(0.62 -0.345 0.02 1.02 146.6 1534.8)">FWD</text>
</g>
</svg></body></html>
